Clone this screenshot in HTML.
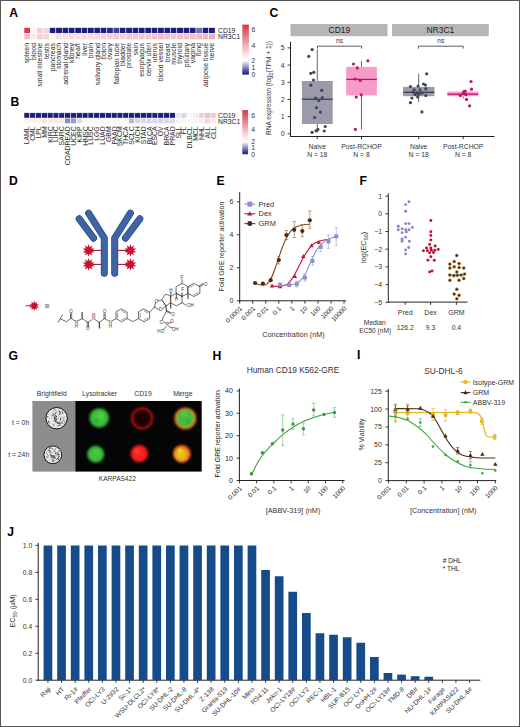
<!DOCTYPE html>
<html><head><meta charset="utf-8"><style>
html,body{margin:0;padding:0;background:#fff;width:520px;height:727px;overflow:hidden;}
svg{display:block;}
text{font-family:"Liberation Sans", sans-serif;}
</style></head><body>
<svg width="520" height="727" viewBox="0 0 520 727">
<rect x="0" y="0" width="520" height="727" fill="#fff"/>
<text x="9.30" y="16.80" font-size="12.2" text-anchor="start" fill="#000" font-weight="bold">A</text>
<text x="10.50" y="106.30" font-size="12.2" text-anchor="start" fill="#000" font-weight="bold">B</text>
<text x="269.50" y="17.20" font-size="12.2" text-anchor="start" fill="#000" font-weight="bold">C</text>
<text x="9.00" y="185.20" font-size="12.2" text-anchor="start" fill="#000" font-weight="bold">D</text>
<text x="216.60" y="185.40" font-size="12.2" text-anchor="start" fill="#000" font-weight="bold">E</text>
<text x="359.50" y="185.20" font-size="12.2" text-anchor="start" fill="#000" font-weight="bold">F</text>
<text x="8.50" y="360.20" font-size="12.2" text-anchor="start" fill="#000" font-weight="bold">G</text>
<text x="212.50" y="360.20" font-size="12.2" text-anchor="start" fill="#000" font-weight="bold">H</text>
<text x="357.00" y="359.40" font-size="12.2" text-anchor="start" fill="#000" font-weight="bold">I</text>
<text x="7.20" y="535.80" font-size="12.2" text-anchor="start" fill="#000" font-weight="bold">J</text>
<rect x="24.00" y="27.60" width="6.37" height="5.95" fill="#d63c48" stroke="#fff" stroke-width="0.5"/>
<rect x="24.00" y="33.55" width="6.37" height="6.05" fill="#f2c2c8" stroke="#fff" stroke-width="0.5"/>
<rect x="30.37" y="27.60" width="6.37" height="5.95" fill="#fbf5f5" stroke="#fff" stroke-width="0.5"/>
<rect x="30.37" y="33.55" width="6.37" height="6.05" fill="#f8e8ea" stroke="#fff" stroke-width="0.5"/>
<rect x="36.74" y="27.60" width="6.37" height="5.95" fill="#eed0d6" stroke="#fff" stroke-width="0.5"/>
<rect x="36.74" y="33.55" width="6.37" height="6.05" fill="#efd0d5" stroke="#fff" stroke-width="0.5"/>
<rect x="43.11" y="27.60" width="6.37" height="5.95" fill="#f2d8dc" stroke="#fff" stroke-width="0.5"/>
<rect x="43.11" y="33.55" width="6.37" height="6.05" fill="#f2d5d9" stroke="#fff" stroke-width="0.5"/>
<rect x="49.48" y="27.60" width="6.37" height="5.95" fill="#1d1d7e" stroke="#fff" stroke-width="0.5"/>
<rect x="49.48" y="33.55" width="6.37" height="6.05" fill="#fcf4f3" stroke="#fff" stroke-width="0.5"/>
<rect x="55.85" y="27.60" width="6.37" height="5.95" fill="#1d1d7e" stroke="#fff" stroke-width="0.5"/>
<rect x="55.85" y="33.55" width="6.37" height="6.05" fill="#f6e2e4" stroke="#fff" stroke-width="0.5"/>
<rect x="62.22" y="27.60" width="6.37" height="5.95" fill="#1d1d7e" stroke="#fff" stroke-width="0.5"/>
<rect x="62.22" y="33.55" width="6.37" height="6.05" fill="#f6e0e2" stroke="#fff" stroke-width="0.5"/>
<rect x="68.59" y="27.60" width="6.37" height="5.95" fill="#1d1d7e" stroke="#fff" stroke-width="0.5"/>
<rect x="68.59" y="33.55" width="6.37" height="6.05" fill="#f4dcdf" stroke="#fff" stroke-width="0.5"/>
<rect x="74.96" y="27.60" width="6.37" height="5.95" fill="#1d1d7e" stroke="#fff" stroke-width="0.5"/>
<rect x="74.96" y="33.55" width="6.37" height="6.05" fill="#f6e2e4" stroke="#fff" stroke-width="0.5"/>
<rect x="81.33" y="27.60" width="6.37" height="5.95" fill="#1d1d7e" stroke="#fff" stroke-width="0.5"/>
<rect x="81.33" y="33.55" width="6.37" height="6.05" fill="#f4dadd" stroke="#fff" stroke-width="0.5"/>
<rect x="87.70" y="27.60" width="6.37" height="5.95" fill="#1d1d7e" stroke="#fff" stroke-width="0.5"/>
<rect x="87.70" y="33.55" width="6.37" height="6.05" fill="#f5dfe1" stroke="#fff" stroke-width="0.5"/>
<rect x="94.07" y="27.60" width="6.37" height="5.95" fill="#1d1d7e" stroke="#fff" stroke-width="0.5"/>
<rect x="94.07" y="33.55" width="6.37" height="6.05" fill="#f4dadd" stroke="#fff" stroke-width="0.5"/>
<rect x="100.44" y="27.60" width="6.37" height="5.95" fill="#1d1d7e" stroke="#fff" stroke-width="0.5"/>
<rect x="100.44" y="33.55" width="6.37" height="6.05" fill="#f2d4d8" stroke="#fff" stroke-width="0.5"/>
<rect x="106.81" y="27.60" width="6.37" height="5.95" fill="#2a2a86" stroke="#fff" stroke-width="0.5"/>
<rect x="106.81" y="33.55" width="6.37" height="6.05" fill="#f2d0d4" stroke="#fff" stroke-width="0.5"/>
<rect x="113.18" y="27.60" width="6.37" height="5.95" fill="#40409a" stroke="#fff" stroke-width="0.5"/>
<rect x="113.18" y="33.55" width="6.37" height="6.05" fill="#f0ccd0" stroke="#fff" stroke-width="0.5"/>
<rect x="119.55" y="27.60" width="6.37" height="5.95" fill="#1d1d7e" stroke="#fff" stroke-width="0.5"/>
<rect x="119.55" y="33.55" width="6.37" height="6.05" fill="#f2d0d4" stroke="#fff" stroke-width="0.5"/>
<rect x="125.92" y="27.60" width="6.37" height="5.95" fill="#1d1d7e" stroke="#fff" stroke-width="0.5"/>
<rect x="125.92" y="33.55" width="6.37" height="6.05" fill="#f0ccd0" stroke="#fff" stroke-width="0.5"/>
<rect x="132.29" y="27.60" width="6.37" height="5.95" fill="#1d1d7e" stroke="#fff" stroke-width="0.5"/>
<rect x="132.29" y="33.55" width="6.37" height="6.05" fill="#f0cace" stroke="#fff" stroke-width="0.5"/>
<rect x="138.66" y="27.60" width="6.37" height="5.95" fill="#1d1d7e" stroke="#fff" stroke-width="0.5"/>
<rect x="138.66" y="33.55" width="6.37" height="6.05" fill="#f0c8cc" stroke="#fff" stroke-width="0.5"/>
<rect x="145.03" y="27.60" width="6.37" height="5.95" fill="#1d1d7e" stroke="#fff" stroke-width="0.5"/>
<rect x="145.03" y="33.55" width="6.37" height="6.05" fill="#f0c8cc" stroke="#fff" stroke-width="0.5"/>
<rect x="151.40" y="27.60" width="6.37" height="5.95" fill="#1d1d7e" stroke="#fff" stroke-width="0.5"/>
<rect x="151.40" y="33.55" width="6.37" height="6.05" fill="#eec4c8" stroke="#fff" stroke-width="0.5"/>
<rect x="157.77" y="27.60" width="6.37" height="5.95" fill="#1d1d7e" stroke="#fff" stroke-width="0.5"/>
<rect x="157.77" y="33.55" width="6.37" height="6.05" fill="#eec0c6" stroke="#fff" stroke-width="0.5"/>
<rect x="164.14" y="27.60" width="6.37" height="5.95" fill="#1d1d7e" stroke="#fff" stroke-width="0.5"/>
<rect x="164.14" y="33.55" width="6.37" height="6.05" fill="#eec2c6" stroke="#fff" stroke-width="0.5"/>
<rect x="170.51" y="27.60" width="6.37" height="5.95" fill="#1d1d7e" stroke="#fff" stroke-width="0.5"/>
<rect x="170.51" y="33.55" width="6.37" height="6.05" fill="#f0c8cc" stroke="#fff" stroke-width="0.5"/>
<rect x="176.88" y="27.60" width="6.37" height="5.95" fill="#1d1d7e" stroke="#fff" stroke-width="0.5"/>
<rect x="176.88" y="33.55" width="6.37" height="6.05" fill="#eec2c6" stroke="#fff" stroke-width="0.5"/>
<rect x="183.25" y="27.60" width="6.37" height="5.95" fill="#1d1d7e" stroke="#fff" stroke-width="0.5"/>
<rect x="183.25" y="33.55" width="6.37" height="6.05" fill="#eec4c8" stroke="#fff" stroke-width="0.5"/>
<rect x="189.62" y="27.60" width="6.37" height="5.95" fill="#1d1d7e" stroke="#fff" stroke-width="0.5"/>
<rect x="189.62" y="33.55" width="6.37" height="6.05" fill="#eec0c4" stroke="#fff" stroke-width="0.5"/>
<rect x="195.99" y="27.60" width="6.37" height="5.95" fill="#6e6eb4" stroke="#fff" stroke-width="0.5"/>
<rect x="195.99" y="33.55" width="6.37" height="6.05" fill="#ecbcc2" stroke="#fff" stroke-width="0.5"/>
<rect x="202.36" y="27.60" width="6.37" height="5.95" fill="#1d1d7e" stroke="#fff" stroke-width="0.5"/>
<rect x="202.36" y="33.55" width="6.37" height="6.05" fill="#ecbac0" stroke="#fff" stroke-width="0.5"/>
<rect x="208.73" y="27.60" width="6.37" height="5.95" fill="#1d1d7e" stroke="#fff" stroke-width="0.5"/>
<rect x="208.73" y="33.55" width="6.37" height="6.05" fill="#e8b0b6" stroke="#fff" stroke-width="0.5"/>
<text x="29.48" y="43.00" font-size="6.9" text-anchor="end" fill="#2a2a2a" transform="rotate(-90 29.48 43.00)">spleen</text>
<text x="35.85" y="43.00" font-size="6.9" text-anchor="end" fill="#2a2a2a" transform="rotate(-90 35.85 43.00)">blood</text>
<text x="42.22" y="43.00" font-size="6.9" text-anchor="end" fill="#2a2a2a" transform="rotate(-90 42.22 43.00)">small intestine</text>
<text x="48.59" y="43.00" font-size="6.9" text-anchor="end" fill="#2a2a2a" transform="rotate(-90 48.59 43.00)">testis</text>
<text x="54.96" y="43.00" font-size="6.9" text-anchor="end" fill="#2a2a2a" transform="rotate(-90 54.96 43.00)">pancreas</text>
<text x="61.34" y="43.00" font-size="6.9" text-anchor="end" fill="#2a2a2a" transform="rotate(-90 61.34 43.00)">stomach</text>
<text x="67.70" y="43.00" font-size="6.9" text-anchor="end" fill="#2a2a2a" transform="rotate(-90 67.70 43.00)">adrenal gland</text>
<text x="74.08" y="43.00" font-size="6.9" text-anchor="end" fill="#2a2a2a" transform="rotate(-90 74.08 43.00)">kidney</text>
<text x="80.45" y="43.00" font-size="6.9" text-anchor="end" fill="#2a2a2a" transform="rotate(-90 80.45 43.00)">heart</text>
<text x="86.81" y="43.00" font-size="6.9" text-anchor="end" fill="#2a2a2a" transform="rotate(-90 86.81 43.00)">liver</text>
<text x="93.19" y="43.00" font-size="6.9" text-anchor="end" fill="#2a2a2a" transform="rotate(-90 93.19 43.00)">brain</text>
<text x="99.55" y="43.00" font-size="6.9" text-anchor="end" fill="#2a2a2a" transform="rotate(-90 99.55 43.00)">salivary gland</text>
<text x="105.92" y="43.00" font-size="6.9" text-anchor="end" fill="#2a2a2a" transform="rotate(-90 105.92 43.00)">colon</text>
<text x="112.30" y="43.00" font-size="6.9" text-anchor="end" fill="#2a2a2a" transform="rotate(-90 112.30 43.00)">ovary</text>
<text x="118.66" y="43.00" font-size="6.9" text-anchor="end" fill="#2a2a2a" transform="rotate(-90 118.66 43.00)">fallopian tube</text>
<text x="125.03" y="43.00" font-size="6.9" text-anchor="end" fill="#2a2a2a" transform="rotate(-90 125.03 43.00)">bladder</text>
<text x="131.41" y="43.00" font-size="6.9" text-anchor="end" fill="#2a2a2a" transform="rotate(-90 131.41 43.00)">prostate</text>
<text x="137.78" y="43.00" font-size="6.9" text-anchor="end" fill="#2a2a2a" transform="rotate(-90 137.78 43.00)">skin</text>
<text x="144.15" y="43.00" font-size="6.9" text-anchor="end" fill="#2a2a2a" transform="rotate(-90 144.15 43.00)">esophagus</text>
<text x="150.52" y="43.00" font-size="6.9" text-anchor="end" fill="#2a2a2a" transform="rotate(-90 150.52 43.00)">cervix uteri</text>
<text x="156.89" y="43.00" font-size="6.9" text-anchor="end" fill="#2a2a2a" transform="rotate(-90 156.89 43.00)">uterus</text>
<text x="163.26" y="43.00" font-size="6.9" text-anchor="end" fill="#2a2a2a" transform="rotate(-90 163.26 43.00)">blood vessel</text>
<text x="169.62" y="43.00" font-size="6.9" text-anchor="end" fill="#2a2a2a" transform="rotate(-90 169.62 43.00)">breast</text>
<text x="176.00" y="43.00" font-size="6.9" text-anchor="end" fill="#2a2a2a" transform="rotate(-90 176.00 43.00)">muscle</text>
<text x="182.37" y="43.00" font-size="6.9" text-anchor="end" fill="#2a2a2a" transform="rotate(-90 182.37 43.00)">thyroid</text>
<text x="188.74" y="43.00" font-size="6.9" text-anchor="end" fill="#2a2a2a" transform="rotate(-90 188.74 43.00)">pituitary</text>
<text x="195.11" y="43.00" font-size="6.9" text-anchor="end" fill="#2a2a2a" transform="rotate(-90 195.11 43.00)">vagina</text>
<text x="201.48" y="43.00" font-size="6.9" text-anchor="end" fill="#2a2a2a" transform="rotate(-90 201.48 43.00)">lung</text>
<text x="207.85" y="43.00" font-size="6.9" text-anchor="end" fill="#2a2a2a" transform="rotate(-90 207.85 43.00)">adipose tissue</text>
<text x="214.22" y="43.00" font-size="6.9" text-anchor="end" fill="#2a2a2a" transform="rotate(-90 214.22 43.00)">nerve</text>
<text x="218.00" y="32.90" font-size="6.8" text-anchor="start" fill="#222">CD19</text>
<text x="218.00" y="39.10" font-size="6.8" text-anchor="start" fill="#222">NR3C1</text>
<linearGradient id="cbA" x1="0" y1="0" x2="0" y2="1"><stop offset="0" stop-color="#d43a4a"/><stop offset="0.12" stop-color="#de5a66"/><stop offset="0.42" stop-color="#efb0b8"/><stop offset="0.6" stop-color="#f8e2e4"/><stop offset="0.72" stop-color="#ffffff"/><stop offset="0.86" stop-color="#8484c0"/><stop offset="1" stop-color="#18187a"/></linearGradient>
<rect x="242.30" y="24.60" width="6.60" height="50.00" fill="url(#cbA)"/>
<text x="251.50" y="32.40" font-size="6.8" text-anchor="start" fill="#333">6</text>
<text x="251.50" y="47.80" font-size="6.8" text-anchor="start" fill="#333">4</text>
<text x="251.50" y="63.20" font-size="6.8" text-anchor="start" fill="#333">2</text>
<text x="251.50" y="70.10" font-size="6.8" text-anchor="start" fill="#333">1</text>
<text x="251.50" y="76.60" font-size="6.8" text-anchor="start" fill="#333">0</text>
<rect x="24.00" y="112.80" width="5.82" height="5.35" fill="#1d1d7e" stroke="#fff" stroke-width="0.5"/>
<rect x="24.00" y="118.15" width="5.82" height="5.35" fill="#fdf3ee" stroke="#fff" stroke-width="0.5"/>
<rect x="29.82" y="112.80" width="5.82" height="5.35" fill="#1d1d7e" stroke="#fff" stroke-width="0.5"/>
<rect x="29.82" y="118.15" width="5.82" height="5.35" fill="#fcf0ec" stroke="#fff" stroke-width="0.5"/>
<rect x="35.64" y="112.80" width="5.82" height="5.35" fill="#1d1d7e" stroke="#fff" stroke-width="0.5"/>
<rect x="35.64" y="118.15" width="5.82" height="5.35" fill="#fbeee8" stroke="#fff" stroke-width="0.5"/>
<rect x="41.46" y="112.80" width="5.82" height="5.35" fill="#1d1d7e" stroke="#fff" stroke-width="0.5"/>
<rect x="41.46" y="118.15" width="5.82" height="5.35" fill="#f8e4de" stroke="#fff" stroke-width="0.5"/>
<rect x="47.28" y="112.80" width="5.82" height="5.35" fill="#1d1d7e" stroke="#fff" stroke-width="0.5"/>
<rect x="47.28" y="118.15" width="5.82" height="5.35" fill="#fae8e2" stroke="#fff" stroke-width="0.5"/>
<rect x="53.10" y="112.80" width="5.82" height="5.35" fill="#1d1d7e" stroke="#fff" stroke-width="0.5"/>
<rect x="53.10" y="118.15" width="5.82" height="5.35" fill="#f8e6e0" stroke="#fff" stroke-width="0.5"/>
<rect x="58.92" y="112.80" width="5.82" height="5.35" fill="#1d1d7e" stroke="#fff" stroke-width="0.5"/>
<rect x="58.92" y="118.15" width="5.82" height="5.35" fill="#f9e8e4" stroke="#fff" stroke-width="0.5"/>
<rect x="64.74" y="112.80" width="5.82" height="5.35" fill="#1d1d7e" stroke="#fff" stroke-width="0.5"/>
<rect x="64.74" y="118.15" width="5.82" height="5.35" fill="#8a8ac8" stroke="#fff" stroke-width="0.5"/>
<rect x="70.56" y="112.80" width="5.82" height="5.35" fill="#1d1d7e" stroke="#fff" stroke-width="0.5"/>
<rect x="70.56" y="118.15" width="5.82" height="5.35" fill="#9898d0" stroke="#fff" stroke-width="0.5"/>
<rect x="76.38" y="112.80" width="5.82" height="5.35" fill="#1d1d7e" stroke="#fff" stroke-width="0.5"/>
<rect x="76.38" y="118.15" width="5.82" height="5.35" fill="#dcdcf0" stroke="#fff" stroke-width="0.5"/>
<rect x="82.20" y="112.80" width="5.82" height="5.35" fill="#1d1d7e" stroke="#fff" stroke-width="0.5"/>
<rect x="82.20" y="118.15" width="5.82" height="5.35" fill="#fbf6f6" stroke="#fff" stroke-width="0.5"/>
<rect x="88.02" y="112.80" width="5.82" height="5.35" fill="#1d1d7e" stroke="#fff" stroke-width="0.5"/>
<rect x="88.02" y="118.15" width="5.82" height="5.35" fill="#fbf6f6" stroke="#fff" stroke-width="0.5"/>
<rect x="93.84" y="112.80" width="5.82" height="5.35" fill="#1d1d7e" stroke="#fff" stroke-width="0.5"/>
<rect x="93.84" y="118.15" width="5.82" height="5.35" fill="#faf6f6" stroke="#fff" stroke-width="0.5"/>
<rect x="99.66" y="112.80" width="5.82" height="5.35" fill="#1d1d7e" stroke="#fff" stroke-width="0.5"/>
<rect x="99.66" y="118.15" width="5.82" height="5.35" fill="#fbf6f6" stroke="#fff" stroke-width="0.5"/>
<rect x="105.48" y="112.80" width="5.82" height="5.35" fill="#1d1d7e" stroke="#fff" stroke-width="0.5"/>
<rect x="105.48" y="118.15" width="5.82" height="5.35" fill="#fbf5f6" stroke="#fff" stroke-width="0.5"/>
<rect x="111.30" y="112.80" width="5.82" height="5.35" fill="#1d1d7e" stroke="#fff" stroke-width="0.5"/>
<rect x="111.30" y="118.15" width="5.82" height="5.35" fill="#f8f4f6" stroke="#fff" stroke-width="0.5"/>
<rect x="117.12" y="112.80" width="5.82" height="5.35" fill="#1d1d7e" stroke="#fff" stroke-width="0.5"/>
<rect x="117.12" y="118.15" width="5.82" height="5.35" fill="#f8f6f8" stroke="#fff" stroke-width="0.5"/>
<rect x="122.94" y="112.80" width="5.82" height="5.35" fill="#1d1d7e" stroke="#fff" stroke-width="0.5"/>
<rect x="122.94" y="118.15" width="5.82" height="5.35" fill="#f8f6f8" stroke="#fff" stroke-width="0.5"/>
<rect x="128.76" y="112.80" width="5.82" height="5.35" fill="#1d1d7e" stroke="#fff" stroke-width="0.5"/>
<rect x="128.76" y="118.15" width="5.82" height="5.35" fill="#b6b6de" stroke="#fff" stroke-width="0.5"/>
<rect x="134.58" y="112.80" width="5.82" height="5.35" fill="#1d1d7e" stroke="#fff" stroke-width="0.5"/>
<rect x="134.58" y="118.15" width="5.82" height="5.35" fill="#d4d4ee" stroke="#fff" stroke-width="0.5"/>
<rect x="140.40" y="112.80" width="5.82" height="5.35" fill="#1d1d7e" stroke="#fff" stroke-width="0.5"/>
<rect x="140.40" y="118.15" width="5.82" height="5.35" fill="#d8d8f0" stroke="#fff" stroke-width="0.5"/>
<rect x="146.22" y="112.80" width="5.82" height="5.35" fill="#1d1d7e" stroke="#fff" stroke-width="0.5"/>
<rect x="146.22" y="118.15" width="5.82" height="5.35" fill="#d6d6ee" stroke="#fff" stroke-width="0.5"/>
<rect x="152.04" y="112.80" width="5.82" height="5.35" fill="#1d1d7e" stroke="#fff" stroke-width="0.5"/>
<rect x="152.04" y="118.15" width="5.82" height="5.35" fill="#d8d8f0" stroke="#fff" stroke-width="0.5"/>
<rect x="157.86" y="112.80" width="5.82" height="5.35" fill="#1d1d7e" stroke="#fff" stroke-width="0.5"/>
<rect x="157.86" y="118.15" width="5.82" height="5.35" fill="#d4d4ee" stroke="#fff" stroke-width="0.5"/>
<rect x="163.68" y="112.80" width="5.82" height="5.35" fill="#1d1d7e" stroke="#fff" stroke-width="0.5"/>
<rect x="163.68" y="118.15" width="5.82" height="5.35" fill="#d8d8f0" stroke="#fff" stroke-width="0.5"/>
<rect x="169.50" y="112.80" width="5.82" height="5.35" fill="#1d1d7e" stroke="#fff" stroke-width="0.5"/>
<rect x="169.50" y="118.15" width="5.82" height="5.35" fill="#dadaf0" stroke="#fff" stroke-width="0.5"/>
<rect x="175.32" y="112.80" width="5.82" height="5.35" fill="#e6e6f2" stroke="#fff" stroke-width="0.5"/>
<rect x="175.32" y="118.15" width="5.82" height="5.35" fill="#fbf3f3" stroke="#fff" stroke-width="0.5"/>
<rect x="181.14" y="112.80" width="5.82" height="5.35" fill="#d6d6ec" stroke="#fff" stroke-width="0.5"/>
<rect x="181.14" y="118.15" width="5.82" height="5.35" fill="#fbf3f3" stroke="#fff" stroke-width="0.5"/>
<rect x="186.96" y="112.80" width="5.82" height="5.35" fill="#faf7f8" stroke="#fff" stroke-width="0.5"/>
<rect x="186.96" y="118.15" width="5.82" height="5.35" fill="#fcf6f6" stroke="#fff" stroke-width="0.5"/>
<rect x="192.78" y="112.80" width="5.82" height="5.35" fill="#f5eef0" stroke="#fff" stroke-width="0.5"/>
<rect x="192.78" y="118.15" width="5.82" height="5.35" fill="#fcf4f4" stroke="#fff" stroke-width="0.5"/>
<rect x="198.60" y="112.80" width="5.82" height="5.35" fill="#f0d2d6" stroke="#fff" stroke-width="0.5"/>
<rect x="198.60" y="118.15" width="5.82" height="5.35" fill="#fbeeee" stroke="#fff" stroke-width="0.5"/>
<rect x="204.42" y="112.80" width="5.82" height="5.35" fill="#eec2c6" stroke="#fff" stroke-width="0.5"/>
<rect x="204.42" y="118.15" width="5.82" height="5.35" fill="#f4d8dc" stroke="#fff" stroke-width="0.5"/>
<rect x="210.24" y="112.80" width="5.82" height="5.35" fill="#f0cace" stroke="#fff" stroke-width="0.5"/>
<rect x="210.24" y="118.15" width="5.82" height="5.35" fill="#f8e8ea" stroke="#fff" stroke-width="0.5"/>
<text x="29.31" y="126.30" font-size="6.9" text-anchor="end" fill="#2a2a2a" transform="rotate(-90 29.31 126.30)">LAML</text>
<text x="35.13" y="126.30" font-size="6.9" text-anchor="end" fill="#2a2a2a" transform="rotate(-90 35.13 126.30)">CML</text>
<text x="40.95" y="126.30" font-size="6.9" text-anchor="end" fill="#2a2a2a" transform="rotate(-90 40.95 126.30)">LPL</text>
<text x="46.77" y="126.30" font-size="6.9" text-anchor="end" fill="#2a2a2a" transform="rotate(-90 46.77 126.30)">MM</text>
<text x="52.59" y="126.30" font-size="6.9" text-anchor="end" fill="#2a2a2a" transform="rotate(-90 52.59 126.30)">KIRC</text>
<text x="58.41" y="126.30" font-size="6.9" text-anchor="end" fill="#2a2a2a" transform="rotate(-90 58.41 126.30)">LIHC</text>
<text x="64.23" y="126.30" font-size="6.9" text-anchor="end" fill="#2a2a2a" transform="rotate(-90 64.23 126.30)">SARC</text>
<text x="70.05" y="126.30" font-size="6.9" text-anchor="end" fill="#2a2a2a" transform="rotate(-90 70.05 126.30)">COADREAD</text>
<text x="75.87" y="126.30" font-size="6.9" text-anchor="end" fill="#2a2a2a" transform="rotate(-90 75.87 126.30)">UCEC</text>
<text x="81.69" y="126.30" font-size="6.9" text-anchor="end" fill="#2a2a2a" transform="rotate(-90 81.69 126.30)">KIRP</text>
<text x="87.51" y="126.30" font-size="6.9" text-anchor="end" fill="#2a2a2a" transform="rotate(-90 87.51 126.30)">HNSC</text>
<text x="93.33" y="126.30" font-size="6.9" text-anchor="end" fill="#2a2a2a" transform="rotate(-90 93.33 126.30)">LUSC</text>
<text x="99.15" y="126.30" font-size="6.9" text-anchor="end" fill="#2a2a2a" transform="rotate(-90 99.15 126.30)">LGG</text>
<text x="104.97" y="126.30" font-size="6.9" text-anchor="end" fill="#2a2a2a" transform="rotate(-90 104.97 126.30)">LUAD</text>
<text x="110.79" y="126.30" font-size="6.9" text-anchor="end" fill="#2a2a2a" transform="rotate(-90 110.79 126.30)">GBM</text>
<text x="116.61" y="126.30" font-size="6.9" text-anchor="end" fill="#2a2a2a" transform="rotate(-90 116.61 126.30)">PAAD</text>
<text x="122.43" y="126.30" font-size="6.9" text-anchor="end" fill="#2a2a2a" transform="rotate(-90 122.43 126.30)">SKCM</text>
<text x="128.25" y="126.30" font-size="6.9" text-anchor="end" fill="#2a2a2a" transform="rotate(-90 128.25 126.30)">THCA</text>
<text x="134.07" y="126.30" font-size="6.9" text-anchor="end" fill="#2a2a2a" transform="rotate(-90 134.07 126.30)">SCLC</text>
<text x="139.89" y="126.30" font-size="6.9" text-anchor="end" fill="#2a2a2a" transform="rotate(-90 139.89 126.30)">KICH</text>
<text x="145.71" y="126.30" font-size="6.9" text-anchor="end" fill="#2a2a2a" transform="rotate(-90 145.71 126.30)">STAD</text>
<text x="151.53" y="126.30" font-size="6.9" text-anchor="end" fill="#2a2a2a" transform="rotate(-90 151.53 126.30)">BLCA</text>
<text x="157.35" y="126.30" font-size="6.9" text-anchor="end" fill="#2a2a2a" transform="rotate(-90 157.35 126.30)">ESCA</text>
<text x="163.17" y="126.30" font-size="6.9" text-anchor="end" fill="#2a2a2a" transform="rotate(-90 163.17 126.30)">OV</text>
<text x="168.99" y="126.30" font-size="6.9" text-anchor="end" fill="#2a2a2a" transform="rotate(-90 168.99 126.30)">BRCA</text>
<text x="174.81" y="126.30" font-size="6.9" text-anchor="end" fill="#2a2a2a" transform="rotate(-90 174.81 126.30)">PRAD</text>
<text x="180.63" y="126.30" font-size="6.9" text-anchor="end" fill="#2a2a2a" transform="rotate(-90 180.63 126.30)">SLL</text>
<text x="186.45" y="126.30" font-size="6.9" text-anchor="end" fill="#2a2a2a" transform="rotate(-90 186.45 126.30)">FL</text>
<text x="192.27" y="126.30" font-size="6.9" text-anchor="end" fill="#2a2a2a" transform="rotate(-90 192.27 126.30)">DLBCL</text>
<text x="198.09" y="126.30" font-size="6.9" text-anchor="end" fill="#2a2a2a" transform="rotate(-90 198.09 126.30)">MCL</text>
<text x="203.91" y="126.30" font-size="6.9" text-anchor="end" fill="#2a2a2a" transform="rotate(-90 203.91 126.30)">NHL</text>
<text x="209.73" y="126.30" font-size="6.9" text-anchor="end" fill="#2a2a2a" transform="rotate(-90 209.73 126.30)">ALL</text>
<text x="215.55" y="126.30" font-size="6.9" text-anchor="end" fill="#2a2a2a" transform="rotate(-90 215.55 126.30)">CLL</text>
<text x="218.00" y="117.90" font-size="6.8" text-anchor="start" fill="#222">CD19</text>
<text x="218.00" y="124.40" font-size="6.8" text-anchor="start" fill="#222">NR3C1</text>
<linearGradient id="cbB" x1="0" y1="0" x2="0" y2="1"><stop offset="0" stop-color="#d43a4a"/><stop offset="0.12" stop-color="#de5a66"/><stop offset="0.42" stop-color="#efb0b8"/><stop offset="0.6" stop-color="#f8e2e4"/><stop offset="0.72" stop-color="#ffffff"/><stop offset="0.86" stop-color="#8484c0"/><stop offset="1" stop-color="#18187a"/></linearGradient>
<rect x="242.30" y="110.10" width="5.80" height="44.10" fill="url(#cbB)"/>
<text x="251.30" y="118.40" font-size="6.8" text-anchor="start" fill="#333">6</text>
<text x="251.30" y="131.60" font-size="6.8" text-anchor="start" fill="#333">4</text>
<text x="251.30" y="144.10" font-size="6.8" text-anchor="start" fill="#333">2</text>
<text x="251.30" y="150.10" font-size="6.8" text-anchor="start" fill="#333">1</text>
<text x="251.30" y="156.60" font-size="6.8" text-anchor="start" fill="#333">0</text>
<rect x="290.50" y="24.00" width="97.00" height="12.20" fill="#b6b6b6"/>
<rect x="392.00" y="24.00" width="96.80" height="12.20" fill="#b6b6b6"/>
<text x="339.40" y="32.90" font-size="8.5" text-anchor="middle" fill="#222">CD19</text>
<text x="440.40" y="32.90" font-size="8.5" text-anchor="middle" fill="#222">NR3C1</text>
<path d="M317.5,48.6 L317.5,46.2 L361.6,46.2 L361.6,48.6" stroke="#333" fill="none" stroke-width="0.8"/>
<text x="339.55" y="42.60" font-size="6.5" text-anchor="middle" fill="#333">ns</text>
<path d="M418.4,48.6 L418.4,46.2 L463.2,46.2 L463.2,48.6" stroke="#333" fill="none" stroke-width="0.8"/>
<text x="440.80" y="42.60" font-size="6.5" text-anchor="middle" fill="#333">ns</text>
<line x1="290.50" y1="41.80" x2="290.50" y2="136.80" stroke="#222" stroke-width="1"/>
<line x1="290.00" y1="136.50" x2="494.50" y2="136.50" stroke="#222" stroke-width="1"/>
<line x1="287.60" y1="133.80" x2="290.50" y2="133.80" stroke="#222" stroke-width="0.9"/>
<text x="284.70" y="136.30" font-size="7" text-anchor="end" fill="#333">0</text>
<line x1="287.60" y1="116.62" x2="290.50" y2="116.62" stroke="#222" stroke-width="0.9"/>
<text x="284.70" y="119.12" font-size="7" text-anchor="end" fill="#333">1</text>
<line x1="287.60" y1="99.44" x2="290.50" y2="99.44" stroke="#222" stroke-width="0.9"/>
<text x="284.70" y="101.94" font-size="7" text-anchor="end" fill="#333">2</text>
<line x1="287.60" y1="82.26" x2="290.50" y2="82.26" stroke="#222" stroke-width="0.9"/>
<text x="284.70" y="84.76" font-size="7" text-anchor="end" fill="#333">3</text>
<line x1="287.60" y1="65.08" x2="290.50" y2="65.08" stroke="#222" stroke-width="0.9"/>
<text x="284.70" y="67.58" font-size="7" text-anchor="end" fill="#333">4</text>
<line x1="287.60" y1="47.90" x2="290.50" y2="47.90" stroke="#222" stroke-width="0.9"/>
<text x="284.70" y="50.40" font-size="7" text-anchor="end" fill="#333">5</text>
<line x1="317.30" y1="136.50" x2="317.30" y2="139.20" stroke="#222" stroke-width="0.9"/>
<line x1="361.50" y1="136.50" x2="361.50" y2="139.20" stroke="#222" stroke-width="0.9"/>
<line x1="418.70" y1="136.50" x2="418.70" y2="139.20" stroke="#222" stroke-width="0.9"/>
<line x1="463.20" y1="136.50" x2="463.20" y2="139.20" stroke="#222" stroke-width="0.9"/>
<text x="317.30" y="149.10" font-size="6.8" text-anchor="middle" fill="#333">Naive</text>
<text x="317.30" y="156.70" font-size="6.8" text-anchor="middle" fill="#333">N = 18</text>
<text x="361.50" y="149.10" font-size="6.8" text-anchor="middle" fill="#333">Post-RCHOP</text>
<text x="361.50" y="156.70" font-size="6.8" text-anchor="middle" fill="#333">N = 8</text>
<text x="418.70" y="149.10" font-size="6.8" text-anchor="middle" fill="#333">Naive</text>
<text x="418.70" y="156.70" font-size="6.8" text-anchor="middle" fill="#333">N = 18</text>
<text x="463.20" y="149.10" font-size="6.8" text-anchor="middle" fill="#333">Post-RCHOP</text>
<text x="463.20" y="156.70" font-size="6.8" text-anchor="middle" fill="#333">N = 8</text>
<text x="0" y="0" font-size="6.55" text-anchor="middle" fill="#333" transform="translate(271.1 88) rotate(-90)">RNA expression (log<tspan font-size="5" dy="1.5">2</tspan><tspan dy="-1.5">(TPM + 1))</tspan></text>
<line x1="317.30" y1="49.40" x2="317.30" y2="81.00" stroke="#555566" stroke-width="0.9"/>
<line x1="317.30" y1="124.00" x2="317.30" y2="132.60" stroke="#555566" stroke-width="0.9"/>
<rect x="301.90" y="81.00" width="30.80" height="43.00" fill="#9a9aab"/>
<line x1="301.90" y1="99.20" x2="332.70" y2="99.20" stroke="#3e3e50" stroke-width="1.3"/>
<line x1="361.50" y1="61.20" x2="361.50" y2="66.90" stroke="#c2166e" stroke-width="0.9"/>
<line x1="361.50" y1="95.40" x2="361.50" y2="129.40" stroke="#c2166e" stroke-width="0.9"/>
<rect x="346.20" y="66.90" width="30.70" height="28.50" fill="#f59cc9"/>
<line x1="346.20" y1="79.40" x2="376.90" y2="79.40" stroke="#c2166e" stroke-width="1.3"/>
<line x1="418.70" y1="73.80" x2="418.70" y2="86.90" stroke="#555566" stroke-width="0.9"/>
<line x1="418.70" y1="96.20" x2="418.70" y2="102.30" stroke="#555566" stroke-width="0.9"/>
<rect x="403.10" y="86.90" width="31.30" height="9.30" fill="#9a9aab"/>
<line x1="403.10" y1="92.30" x2="434.40" y2="92.30" stroke="#3e3e50" stroke-width="1.3"/>
<line x1="463.20" y1="89.80" x2="463.20" y2="91.70" stroke="#c2166e" stroke-width="0.9"/>
<line x1="463.20" y1="96.20" x2="463.20" y2="98.50" stroke="#c2166e" stroke-width="0.9"/>
<rect x="447.40" y="91.70" width="31.00" height="4.50" fill="#f59cc9"/>
<line x1="447.40" y1="94.20" x2="478.40" y2="94.20" stroke="#c2166e" stroke-width="1.3"/>
<circle cx="312.10" cy="49.60" r="1.60" fill="#3d4658"/>
<circle cx="308.70" cy="56.30" r="1.60" fill="#3d4658"/>
<circle cx="310.80" cy="73.30" r="1.60" fill="#3d4658"/>
<circle cx="313.80" cy="72.30" r="1.60" fill="#3d4658"/>
<circle cx="313.50" cy="80.00" r="1.60" fill="#3d4658"/>
<circle cx="310.80" cy="85.20" r="1.60" fill="#3d4658"/>
<circle cx="321.70" cy="90.40" r="1.60" fill="#3d4658"/>
<circle cx="315.60" cy="98.10" r="1.60" fill="#3d4658"/>
<circle cx="322.30" cy="97.70" r="1.60" fill="#3d4658"/>
<circle cx="318.80" cy="100.60" r="1.60" fill="#3d4658"/>
<circle cx="316.50" cy="107.70" r="1.60" fill="#3d4658"/>
<circle cx="320.40" cy="112.10" r="1.60" fill="#3d4658"/>
<circle cx="314.60" cy="117.50" r="1.60" fill="#3d4658"/>
<circle cx="325.20" cy="126.50" r="1.60" fill="#3d4658"/>
<circle cx="324.20" cy="131.00" r="1.60" fill="#3d4658"/>
<circle cx="317.90" cy="129.40" r="1.60" fill="#3d4658"/>
<circle cx="316.00" cy="130.80" r="1.60" fill="#3d4658"/>
<circle cx="312.10" cy="132.30" r="1.60" fill="#3d4658"/>
<circle cx="426.70" cy="73.80" r="1.60" fill="#3d4658"/>
<circle cx="423.50" cy="84.00" r="1.60" fill="#3d4658"/>
<circle cx="425.40" cy="85.00" r="1.60" fill="#3d4658"/>
<circle cx="410.40" cy="86.50" r="1.60" fill="#3d4658"/>
<circle cx="418.10" cy="86.00" r="1.60" fill="#3d4658"/>
<circle cx="414.20" cy="89.80" r="1.60" fill="#3d4658"/>
<circle cx="420.00" cy="89.80" r="1.60" fill="#3d4658"/>
<circle cx="425.80" cy="88.80" r="1.60" fill="#3d4658"/>
<circle cx="417.10" cy="92.70" r="1.60" fill="#3d4658"/>
<circle cx="415.20" cy="94.60" r="1.60" fill="#3d4658"/>
<circle cx="419.00" cy="94.20" r="1.60" fill="#3d4658"/>
<circle cx="425.80" cy="95.60" r="1.60" fill="#3d4658"/>
<circle cx="411.90" cy="98.00" r="1.60" fill="#3d4658"/>
<circle cx="417.70" cy="96.90" r="1.60" fill="#3d4658"/>
<circle cx="410.40" cy="102.70" r="1.60" fill="#3d4658"/>
<circle cx="421.90" cy="111.90" r="1.60" fill="#3d4658"/>
<circle cx="413.00" cy="92.00" r="1.60" fill="#3d4658"/>
<circle cx="422.00" cy="93.00" r="1.60" fill="#3d4658"/>
<circle cx="353.50" cy="64.00" r="1.60" fill="#c0126a"/>
<circle cx="367.90" cy="60.80" r="1.60" fill="#c0126a"/>
<circle cx="357.30" cy="67.90" r="1.60" fill="#c0126a"/>
<circle cx="355.00" cy="79.00" r="1.60" fill="#c0126a"/>
<circle cx="360.20" cy="80.40" r="1.60" fill="#c0126a"/>
<circle cx="356.30" cy="97.10" r="1.60" fill="#c0126a"/>
<circle cx="361.20" cy="94.80" r="1.60" fill="#c0126a"/>
<circle cx="355.40" cy="129.40" r="1.60" fill="#c0126a"/>
<circle cx="471.00" cy="81.50" r="1.60" fill="#c0126a"/>
<circle cx="471.50" cy="89.20" r="1.60" fill="#c0126a"/>
<circle cx="465.20" cy="91.20" r="1.60" fill="#c0126a"/>
<circle cx="460.40" cy="95.60" r="1.60" fill="#c0126a"/>
<circle cx="465.80" cy="94.60" r="1.60" fill="#c0126a"/>
<circle cx="466.50" cy="99.40" r="1.60" fill="#c0126a"/>
<circle cx="469.60" cy="105.80" r="1.60" fill="#c0126a"/>
<circle cx="463.30" cy="92.70" r="1.60" fill="#c0126a"/>
<g stroke="#2b4a84" stroke-width="7" stroke-linecap="round" stroke-linejoin="round" fill="none">
<path d="M88.6,213.2 L104.3,238 L104.3,273.2"/>
<path d="M130.4,213.2 L114.7,238 L114.7,273.2"/>
<path d="M79.2,218.8 L93.6,238.2"/>
<path d="M139.8,218.8 L125.4,238.2"/>
</g>
<g stroke="#3e64a6" stroke-width="5.6" stroke-linecap="round" stroke-linejoin="round" fill="none">
<path d="M88.6,213.2 L104.3,238 L104.3,273.2"/>
<path d="M130.4,213.2 L114.7,238 L114.7,273.2"/>
<path d="M79.2,218.8 L93.6,238.2"/>
<path d="M139.8,218.8 L125.4,238.2"/>
</g>
<line x1="92.00" y1="250.40" x2="101.50" y2="250.40" stroke="#9a1a2c" stroke-width="1.1"/>
<polygon points="88.60,244.10 89.65,247.17 92.30,245.30 91.35,248.40 94.59,248.45 92.00,250.40 94.59,252.35 91.35,252.40 92.30,255.50 89.65,253.63 88.60,256.70 87.55,253.63 84.90,255.50 85.85,252.40 82.61,252.35 85.20,250.40 82.61,248.45 85.85,248.40 84.90,245.30 87.55,247.17" fill="#c8102e"/>
<line x1="92.00" y1="264.40" x2="101.50" y2="264.40" stroke="#9a1a2c" stroke-width="1.1"/>
<polygon points="88.60,258.10 89.65,261.17 92.30,259.30 91.35,262.40 94.59,262.45 92.00,264.40 94.59,266.35 91.35,266.40 92.30,269.50 89.65,267.63 88.60,270.70 87.55,267.63 84.90,269.50 85.85,266.40 82.61,266.35 85.20,264.40 82.61,262.45 85.85,262.40 84.90,259.30 87.55,261.17" fill="#c8102e"/>
<line x1="118.00" y1="250.40" x2="127.00" y2="250.40" stroke="#9a1a2c" stroke-width="1.1"/>
<polygon points="130.40,244.10 131.45,247.17 134.10,245.30 133.15,248.40 136.39,248.45 133.80,250.40 136.39,252.35 133.15,252.40 134.10,255.50 131.45,253.63 130.40,256.70 129.35,253.63 126.70,255.50 127.65,252.40 124.41,252.35 127.00,250.40 124.41,248.45 127.65,248.40 126.70,245.30 129.35,247.17" fill="#c8102e"/>
<line x1="118.00" y1="264.40" x2="127.00" y2="264.40" stroke="#9a1a2c" stroke-width="1.1"/>
<polygon points="130.40,258.10 131.45,261.17 134.10,259.30 133.15,262.40 136.39,262.45 133.80,264.40 136.39,266.35 133.15,266.40 134.10,269.50 131.45,267.63 130.40,270.70 129.35,267.63 126.70,269.50 127.65,266.40 124.41,266.35 127.00,264.40 124.41,262.45 127.65,262.40 126.70,259.30 129.35,261.17" fill="#c8102e"/>
<line x1="25.50" y1="305.80" x2="31.00" y2="305.80" stroke="#c8102e" stroke-width="1"/>
<polygon points="34.20,300.60 35.07,303.14 37.26,301.59 36.47,304.15 39.15,304.19 37.00,305.80 39.15,307.41 36.47,307.45 37.26,310.01 35.07,308.46 34.20,311.00 33.33,308.46 31.14,310.01 31.93,307.45 29.25,307.41 31.40,305.80 29.25,304.19 31.93,304.15 31.14,301.59 33.33,303.14" fill="#c8102e"/>
<rect x="45.00" y="304.50" width="4.30" height="1.00" fill="#555"/>
<rect x="45.00" y="306.60" width="4.30" height="1.00" fill="#555"/>
<g stroke="#3e3e3e" stroke-width="0.75" fill="none" stroke-linejoin="round" stroke-linecap="round">
<path d="M58.2,322.3 L62.5,314.8" stroke="#3d63a3" stroke-width="0.9"/>
<path d="M60.2,318.8 L66.5,321.7 L71.1,318.3 L74.8,320.8"/>
<path d="M70.5,318.3 L70.5,313.6 M71.7,318.3 L71.7,313.6"/>
<path d="M77.8,320.8 L82.1,318.6 L87.9,322.3 L91.5,320"/>
<path d="M82.1,318.6 L82.1,312.5" stroke-width="1.2"/>
<path d="M87.3,322.3 L87.3,327 M88.5,322.3 L88.5,327"/>
<path d="M95.6,320 L99.4,322.3 L104.6,318.6 L108.3,320.8"/>
<path d="M99.4,322.3 L99.4,328.1" stroke-width="1.2"/>
<path d="M104,318.6 L104,313.6 M105.2,318.6 L105.2,313.6"/>
<path d="M112.4,320.8 L116,318.6"/>
<path d="M121.60,309.00 L127.14,312.20 L127.14,318.60 L121.60,321.80 L116.06,318.60 L116.06,312.20 Z"/>
<path d="M121.60,310.80 L125.58,313.10 M125.58,317.70 L121.60,320.00 M117.62,317.70 L117.62,313.10" stroke-width="0.5"/>
<path d="M144.10,309.00 L149.64,312.20 L149.64,318.60 L144.10,321.80 L138.56,318.60 L138.56,312.20 Z"/>
<path d="M144.10,310.80 L148.08,313.10 M148.08,317.70 L144.10,320.00 M140.12,317.70 L140.12,313.10" stroke-width="0.5"/>
<path d="M127.1,318.6 L132.8,321.6 L138.6,318.6"/>
<path d="M149.6,312.2 L154.5,307"/>
<path d="M154.5,307 L155.6,302.6 M157.6,301 L161.7,299.8 L165.9,305.8 L162.2,309.2 M159.2,309.8 L154.5,307"/>
<path d="M170.70,296.50 L170.70,302.80 L165.90,305.80 L161.70,299.80 L165.30,294.40 Z"/>
<path d="M170.70,296.50 L176.40,293.30 L182.00,296.50 L182.00,302.80 L176.40,305.80 L170.70,302.80 Z"/>
<path d="M176.40,286.70 L182.00,283.40 L188.00,286.70 L188.00,293.30 L182.00,296.50 L176.40,293.30 Z"/>
<path d="M188.00,286.70 L193.90,283.40 L199.90,286.70 L199.90,293.30 L193.90,296.50 L188.00,293.30 Z"/>
<path d="M189.6,287.4 L193.9,285 M194,294.8 L198.4,292.4" stroke-width="0.5"/>
<path d="M199.9,286.7 L203.6,284.3 M199.3,285.8 L203,283.4"/>
<path d="M182,283.4 L182,279.6"/>
<path d="M188,293.3 L188,298.6 M170.7,302.8 L170.7,308.2 M182,296.5 L182,293" stroke-width="1.1"/>
<path d="M182,302.8 L186.2,305.2"/>
<path d="M165.9,305.8 L166.5,311.5" stroke-width="1.1"/>
<path d="M166.5,311.5 L170.6,313.4 M166.9,310.7 L171,312.6"/>
<path d="M166.5,311.5 L163.3,316.8 L162.2,320.2"/>
<path d="M164,322.2 L166.2,323.6 M169.2,323.8 L171,321.8 M168.6,326.4 L172.6,328 M166.3,326.4 L163.2,329.6"/>
<path d="M176.4,293.3 L176.4,297.5 M170.7,296.5 L171,292" stroke-width="0.9"/>
</g>
<g font-size="4.6" fill="#3e3e3e" text-anchor="middle">
<text x="71.1" y="313.4">O</text>
<text x="76.3" y="324">N</text>
<text x="76.3" y="327.6">H</text>
<text x="87.9" y="330.4">O</text>
<text x="93.6" y="320.4">N</text>
<text x="93.6" y="316.8">H</text>
<text x="104.6" y="313.4">O</text>
<text x="110.4" y="324">N</text>
<text x="110.4" y="327.6">H</text>
<text x="156.3" y="303.2">O</text>
<text x="160.6" y="311.3">O</text>
<text x="182" y="279.2">F</text>
<text x="182.6" y="291.4">F</text>
<text x="170.9" y="291.5">H</text>
<text x="176.4" y="301">H</text>
<text x="205.8" y="285.8">O</text>
<text x="190.4" y="307.3">OH</text>
<text x="173" y="315.8">O</text>
<text x="161.4" y="323.8">O</text>
<text x="167.8" y="326.4">P</text>
<text x="172" y="322.5">O</text>
<text x="160.8" y="333.2">HO</text>
<text x="175.2" y="330.6">OH</text>
</g>
<line x1="239.70" y1="192.10" x2="239.70" y2="301.30" stroke="#222" stroke-width="1"/>
<line x1="239.20" y1="300.80" x2="346.20" y2="300.80" stroke="#222" stroke-width="1"/>
<line x1="236.80" y1="300.80" x2="239.70" y2="300.80" stroke="#222" stroke-width="0.9"/>
<text x="233.40" y="303.30" font-size="7" text-anchor="end" fill="#333">0</text>
<line x1="236.80" y1="267.80" x2="239.70" y2="267.80" stroke="#222" stroke-width="0.9"/>
<text x="233.40" y="270.30" font-size="7" text-anchor="end" fill="#333">2</text>
<line x1="236.80" y1="234.80" x2="239.70" y2="234.80" stroke="#222" stroke-width="0.9"/>
<text x="233.40" y="237.30" font-size="7" text-anchor="end" fill="#333">4</text>
<line x1="236.80" y1="201.80" x2="239.70" y2="201.80" stroke="#222" stroke-width="0.9"/>
<text x="233.40" y="204.30" font-size="7" text-anchor="end" fill="#333">6</text>
<line x1="239.70" y1="300.80" x2="239.70" y2="303.60" stroke="#222" stroke-width="0.9"/>
<text x="0" y="0" font-size="6.6" text-anchor="end" fill="#333" transform="translate(242.60 309.0) rotate(-45)">0.0001</text>
<line x1="252.74" y1="300.80" x2="252.74" y2="303.60" stroke="#222" stroke-width="0.9"/>
<text x="0" y="0" font-size="6.6" text-anchor="end" fill="#333" transform="translate(255.64 309.0) rotate(-45)">0.001</text>
<line x1="265.78" y1="300.80" x2="265.78" y2="303.60" stroke="#222" stroke-width="0.9"/>
<text x="0" y="0" font-size="6.6" text-anchor="end" fill="#333" transform="translate(268.68 309.0) rotate(-45)">0.01</text>
<line x1="278.82" y1="300.80" x2="278.82" y2="303.60" stroke="#222" stroke-width="0.9"/>
<text x="0" y="0" font-size="6.6" text-anchor="end" fill="#333" transform="translate(281.72 309.0) rotate(-45)">0.1</text>
<line x1="291.86" y1="300.80" x2="291.86" y2="303.60" stroke="#222" stroke-width="0.9"/>
<text x="0" y="0" font-size="6.6" text-anchor="end" fill="#333" transform="translate(294.76 309.0) rotate(-45)">1</text>
<line x1="304.90" y1="300.80" x2="304.90" y2="303.60" stroke="#222" stroke-width="0.9"/>
<text x="0" y="0" font-size="6.6" text-anchor="end" fill="#333" transform="translate(307.80 309.0) rotate(-45)">10</text>
<line x1="317.94" y1="300.80" x2="317.94" y2="303.60" stroke="#222" stroke-width="0.9"/>
<text x="0" y="0" font-size="6.6" text-anchor="end" fill="#333" transform="translate(320.84 309.0) rotate(-45)">100</text>
<line x1="330.98" y1="300.80" x2="330.98" y2="303.60" stroke="#222" stroke-width="0.9"/>
<text x="0" y="0" font-size="6.6" text-anchor="end" fill="#333" transform="translate(333.88 309.0) rotate(-45)">1000</text>
<line x1="344.02" y1="300.80" x2="344.02" y2="303.60" stroke="#222" stroke-width="0.9"/>
<text x="0" y="0" font-size="6.6" text-anchor="end" fill="#333" transform="translate(346.92 309.0) rotate(-45)">10000</text>
<text x="293.50" y="337.20" font-size="7.3" text-anchor="middle" fill="#333">Concentration (nM)</text>
<text x="223.50" y="246.50" font-size="7.1" text-anchor="middle" fill="#333" transform="rotate(-90 223.50 246.50)">Fold GRE reporter activation</text>
<path d="M255,283.6 C259,285 262,285.6 266,284.5 C272,282 276,265 280,254 C284,242 288,232 294,228 C299,225 305,224.3 310,224.2" stroke="#7a4a1c" fill="none" stroke-width="1.1"/>
<path d="M272,285.8 C276,286.5 281,286.8 286,285 C292,282 296,272 300,264 C305,254 309,247 314,243.5 C319,240.5 324,239.7 330,239.2" stroke="#c4103c" fill="none" stroke-width="1.1"/>
<path d="M280,285 C285,285.6 290,285.4 295,284 C300,282.5 303,278 306,273 C309,266 312,258 316,251 C320,245 324,241 328,239.4 C331,238 334,237.2 336.3,236.6" stroke="#8f8fcc" fill="none" stroke-width="1.1"/>
<circle cx="255.10" cy="283.00" r="2.10" fill="#4f2a12"/>
<circle cx="262.90" cy="283.70" r="2.10" fill="#4f2a12"/>
<circle cx="270.70" cy="280.20" r="2.10" fill="#4f2a12"/>
<line x1="278.80" y1="256.50" x2="278.80" y2="264.00" stroke="#a07040" stroke-width="0.7"/>
<line x1="277.20" y1="256.50" x2="280.40" y2="256.50" stroke="#a07040" stroke-width="0.7"/>
<line x1="277.20" y1="264.00" x2="280.40" y2="264.00" stroke="#a07040" stroke-width="0.7"/>
<circle cx="278.80" cy="260.10" r="2.10" fill="#4f2a12"/>
<line x1="286.40" y1="230.50" x2="286.40" y2="239.50" stroke="#a07040" stroke-width="0.7"/>
<line x1="284.80" y1="230.50" x2="288.00" y2="230.50" stroke="#a07040" stroke-width="0.7"/>
<line x1="284.80" y1="239.50" x2="288.00" y2="239.50" stroke="#a07040" stroke-width="0.7"/>
<circle cx="286.40" cy="235.10" r="2.10" fill="#4f2a12"/>
<line x1="294.20" y1="221.60" x2="294.20" y2="237.50" stroke="#a07040" stroke-width="0.7"/>
<line x1="292.60" y1="221.60" x2="295.80" y2="221.60" stroke="#a07040" stroke-width="0.7"/>
<line x1="292.60" y1="237.50" x2="295.80" y2="237.50" stroke="#a07040" stroke-width="0.7"/>
<circle cx="294.20" cy="229.80" r="2.10" fill="#4f2a12"/>
<line x1="302.30" y1="224.50" x2="302.30" y2="236.80" stroke="#a07040" stroke-width="0.7"/>
<line x1="300.70" y1="224.50" x2="303.90" y2="224.50" stroke="#a07040" stroke-width="0.7"/>
<line x1="300.70" y1="236.80" x2="303.90" y2="236.80" stroke="#a07040" stroke-width="0.7"/>
<circle cx="302.30" cy="231.10" r="2.10" fill="#4f2a12"/>
<line x1="309.80" y1="211.00" x2="309.80" y2="228.20" stroke="#a07040" stroke-width="0.7"/>
<line x1="308.20" y1="211.00" x2="311.40" y2="211.00" stroke="#a07040" stroke-width="0.7"/>
<line x1="308.20" y1="228.20" x2="311.40" y2="228.20" stroke="#a07040" stroke-width="0.7"/>
<circle cx="309.80" cy="220.30" r="2.10" fill="#4f2a12"/>
<polygon points="272.00,283.50 274.20,287.40 269.80,287.40" fill="#c4103c"/>
<polygon points="280.10,284.30 282.30,288.20 277.90,288.20" fill="#c4103c"/>
<polygon points="294.90,274.20 297.10,278.10 292.70,278.10" fill="#c4103c"/>
<polygon points="303.30,254.00 305.50,257.90 301.10,257.90" fill="#c4103c"/>
<polygon points="311.60,243.30 313.80,247.20 309.40,247.20" fill="#c4103c"/>
<polygon points="318.90,240.00 321.10,243.90 316.70,243.90" fill="#c4103c"/>
<rect x="278.10" y="282.60" width="4.00" height="4.00" fill="#8f8fcc"/>
<rect x="287.10" y="283.00" width="4.00" height="4.00" fill="#8f8fcc"/>
<line x1="296.80" y1="281.00" x2="296.80" y2="287.00" stroke="#a8a8d8" stroke-width="0.7"/>
<line x1="295.20" y1="281.00" x2="298.40" y2="281.00" stroke="#a8a8d8" stroke-width="0.7"/>
<line x1="295.20" y1="287.00" x2="298.40" y2="287.00" stroke="#a8a8d8" stroke-width="0.7"/>
<rect x="294.80" y="281.90" width="4.00" height="4.00" fill="#8f8fcc"/>
<line x1="304.90" y1="274.00" x2="304.90" y2="281.20" stroke="#a8a8d8" stroke-width="0.7"/>
<line x1="303.30" y1="274.00" x2="306.50" y2="274.00" stroke="#a8a8d8" stroke-width="0.7"/>
<line x1="303.30" y1="281.20" x2="306.50" y2="281.20" stroke="#a8a8d8" stroke-width="0.7"/>
<rect x="302.90" y="275.60" width="4.00" height="4.00" fill="#8f8fcc"/>
<line x1="312.50" y1="256.50" x2="312.50" y2="265.20" stroke="#a8a8d8" stroke-width="0.7"/>
<line x1="310.90" y1="256.50" x2="314.10" y2="256.50" stroke="#a8a8d8" stroke-width="0.7"/>
<line x1="310.90" y1="265.20" x2="314.10" y2="265.20" stroke="#a8a8d8" stroke-width="0.7"/>
<rect x="310.50" y="258.90" width="4.00" height="4.00" fill="#8f8fcc"/>
<line x1="320.70" y1="243.00" x2="320.70" y2="251.50" stroke="#a8a8d8" stroke-width="0.7"/>
<line x1="319.10" y1="243.00" x2="322.30" y2="243.00" stroke="#a8a8d8" stroke-width="0.7"/>
<line x1="319.10" y1="251.50" x2="322.30" y2="251.50" stroke="#a8a8d8" stroke-width="0.7"/>
<rect x="318.70" y="245.00" width="4.00" height="4.00" fill="#8f8fcc"/>
<line x1="328.40" y1="234.80" x2="328.40" y2="248.40" stroke="#a8a8d8" stroke-width="0.7"/>
<line x1="326.80" y1="234.80" x2="330.00" y2="234.80" stroke="#a8a8d8" stroke-width="0.7"/>
<line x1="326.80" y1="248.40" x2="330.00" y2="248.40" stroke="#a8a8d8" stroke-width="0.7"/>
<rect x="326.40" y="239.40" width="4.00" height="4.00" fill="#8f8fcc"/>
<line x1="336.20" y1="227.40" x2="336.20" y2="245.40" stroke="#a8a8d8" stroke-width="0.7"/>
<line x1="334.60" y1="227.40" x2="337.80" y2="227.40" stroke="#a8a8d8" stroke-width="0.7"/>
<line x1="334.60" y1="245.40" x2="337.80" y2="245.40" stroke="#a8a8d8" stroke-width="0.7"/>
<rect x="334.20" y="234.30" width="4.00" height="4.00" fill="#8f8fcc"/>
<line x1="244.30" y1="204.10" x2="255.30" y2="204.10" stroke="#8f8fcc" stroke-width="1.1"/>
<rect x="247.40" y="201.60" width="5.00" height="5.00" fill="#8f8fcc"/>
<line x1="244.30" y1="213.80" x2="255.30" y2="213.80" stroke="#c4103c" stroke-width="1.1"/>
<polygon points="249.8,211.2 252.4,215.6 247.2,215.6" fill="#c4103c"/>
<line x1="244.30" y1="223.60" x2="255.30" y2="223.60" stroke="#7a4a1c" stroke-width="1.1"/>
<circle cx="249.80" cy="223.60" r="2.50" fill="#4f2a12"/>
<text x="258.60" y="206.70" font-size="7.4" text-anchor="start" fill="#333">Pred</text>
<text x="258.60" y="216.40" font-size="7.4" text-anchor="start" fill="#333">Dex</text>
<text x="258.60" y="226.20" font-size="7.4" text-anchor="start" fill="#333">GRM</text>
<line x1="388.30" y1="193.40" x2="388.30" y2="302.60" stroke="#222" stroke-width="1"/>
<line x1="388.00" y1="302.10" x2="467.50" y2="302.10" stroke="#222" stroke-width="1"/>
<line x1="385.40" y1="196.10" x2="388.30" y2="196.10" stroke="#222" stroke-width="0.9"/>
<text x="382.20" y="198.60" font-size="7" text-anchor="end" fill="#333">1</text>
<line x1="385.40" y1="213.80" x2="388.30" y2="213.80" stroke="#222" stroke-width="0.9"/>
<text x="382.20" y="216.30" font-size="7" text-anchor="end" fill="#333">0</text>
<line x1="385.40" y1="231.50" x2="388.30" y2="231.50" stroke="#222" stroke-width="0.9"/>
<text x="382.20" y="234.00" font-size="7" text-anchor="end" fill="#333">−1</text>
<line x1="385.40" y1="249.20" x2="388.30" y2="249.20" stroke="#222" stroke-width="0.9"/>
<text x="382.20" y="251.70" font-size="7" text-anchor="end" fill="#333">−2</text>
<line x1="385.40" y1="266.90" x2="388.30" y2="266.90" stroke="#222" stroke-width="0.9"/>
<text x="382.20" y="269.40" font-size="7" text-anchor="end" fill="#333">−3</text>
<line x1="385.40" y1="284.60" x2="388.30" y2="284.60" stroke="#222" stroke-width="0.9"/>
<text x="382.20" y="287.10" font-size="7" text-anchor="end" fill="#333">−4</text>
<line x1="385.40" y1="302.30" x2="388.30" y2="302.30" stroke="#222" stroke-width="0.9"/>
<text x="382.20" y="304.80" font-size="7" text-anchor="end" fill="#333">−5</text>
<line x1="405.20" y1="302.10" x2="405.20" y2="304.80" stroke="#222" stroke-width="0.9"/>
<line x1="430.60" y1="302.10" x2="430.60" y2="304.80" stroke="#222" stroke-width="0.9"/>
<line x1="456.40" y1="302.10" x2="456.40" y2="304.80" stroke="#222" stroke-width="0.9"/>
<text x="405.20" y="314.50" font-size="7" text-anchor="middle" fill="#333">Pred</text>
<text x="430.60" y="314.50" font-size="7" text-anchor="middle" fill="#333">Dex</text>
<text x="456.40" y="314.50" font-size="7" text-anchor="middle" fill="#333">GRM</text>
<text x="374.80" y="325.00" font-size="6.7" text-anchor="middle" fill="#333">Median</text>
<text x="375.20" y="333.20" font-size="6.6" text-anchor="middle" fill="#333">EC50 (nM)</text>
<text x="405.20" y="329.50" font-size="6.8" text-anchor="middle" fill="#333">126.2</text>
<text x="430.60" y="329.50" font-size="6.8" text-anchor="middle" fill="#333">9.3</text>
<text x="456.40" y="329.50" font-size="6.8" text-anchor="middle" fill="#333">0.4</text>
<text x="0" y="0" font-size="7.4" text-anchor="middle" fill="#333" transform="translate(366 247.4) rotate(-90)">log(EC<tspan font-size="5.4" dy="1.5">50</tspan><tspan dy="-1.5">)</tspan></text>
<circle cx="409.00" cy="201.70" r="1.45" fill="#8585c8"/>
<circle cx="405.60" cy="204.60" r="1.45" fill="#8585c8"/>
<circle cx="405.60" cy="211.20" r="1.45" fill="#8585c8"/>
<circle cx="405.60" cy="223.60" r="1.45" fill="#8585c8"/>
<circle cx="409.00" cy="223.60" r="1.45" fill="#8585c8"/>
<circle cx="398.30" cy="226.20" r="1.45" fill="#8585c8"/>
<circle cx="412.50" cy="227.40" r="1.45" fill="#8585c8"/>
<circle cx="402.10" cy="228.80" r="1.45" fill="#8585c8"/>
<circle cx="405.60" cy="229.70" r="1.45" fill="#8585c8"/>
<circle cx="409.00" cy="229.70" r="1.45" fill="#8585c8"/>
<circle cx="398.30" cy="229.70" r="1.45" fill="#8585c8"/>
<circle cx="402.10" cy="232.60" r="1.45" fill="#8585c8"/>
<circle cx="406.40" cy="231.90" r="1.45" fill="#8585c8"/>
<circle cx="402.10" cy="238.90" r="1.45" fill="#8585c8"/>
<circle cx="405.60" cy="237.10" r="1.45" fill="#8585c8"/>
<circle cx="402.10" cy="241.30" r="1.45" fill="#8585c8"/>
<circle cx="409.40" cy="241.30" r="1.45" fill="#8585c8"/>
<circle cx="408.70" cy="247.50" r="1.45" fill="#8585c8"/>
<circle cx="405.60" cy="249.90" r="1.45" fill="#8585c8"/>
<circle cx="405.60" cy="253.90" r="1.45" fill="#8585c8"/>
<circle cx="430.85" cy="220.52" r="1.45" fill="#c0102c"/>
<circle cx="430.85" cy="231.76" r="1.45" fill="#c0102c"/>
<circle cx="430.85" cy="235.57" r="1.45" fill="#c0102c"/>
<circle cx="430.85" cy="239.90" r="1.45" fill="#c0102c"/>
<circle cx="429.64" cy="244.57" r="1.45" fill="#c0102c"/>
<circle cx="426.52" cy="248.03" r="1.45" fill="#c0102c"/>
<circle cx="435.17" cy="245.95" r="1.45" fill="#c0102c"/>
<circle cx="430.85" cy="248.03" r="1.45" fill="#c0102c"/>
<circle cx="423.41" cy="250.80" r="1.45" fill="#c0102c"/>
<circle cx="427.39" cy="250.80" r="1.45" fill="#c0102c"/>
<circle cx="431.37" cy="250.28" r="1.45" fill="#c0102c"/>
<circle cx="434.83" cy="250.28" r="1.45" fill="#c0102c"/>
<circle cx="438.29" cy="249.41" r="1.45" fill="#c0102c"/>
<circle cx="429.64" cy="252.87" r="1.45" fill="#c0102c"/>
<circle cx="433.44" cy="252.53" r="1.45" fill="#c0102c"/>
<circle cx="430.85" cy="256.68" r="1.45" fill="#c0102c"/>
<circle cx="427.91" cy="260.14" r="1.45" fill="#c0102c"/>
<circle cx="434.31" cy="260.31" r="1.45" fill="#c0102c"/>
<circle cx="432.06" cy="271.04" r="1.45" fill="#c0102c"/>
<circle cx="429.64" cy="271.90" r="1.45" fill="#c0102c"/>
<circle cx="456.80" cy="255.47" r="1.50" fill="#4a2a0c" stroke="#c98a2a" stroke-width="0.5"/>
<circle cx="454.20" cy="261.52" r="1.50" fill="#4a2a0c" stroke="#c98a2a" stroke-width="0.5"/>
<circle cx="459.05" cy="263.60" r="1.50" fill="#4a2a0c" stroke="#c98a2a" stroke-width="0.5"/>
<circle cx="449.88" cy="264.12" r="1.50" fill="#4a2a0c" stroke="#c98a2a" stroke-width="0.5"/>
<circle cx="454.20" cy="266.71" r="1.50" fill="#4a2a0c" stroke="#c98a2a" stroke-width="0.5"/>
<circle cx="459.05" cy="267.58" r="1.50" fill="#4a2a0c" stroke="#c98a2a" stroke-width="0.5"/>
<circle cx="463.72" cy="268.10" r="1.50" fill="#4a2a0c" stroke="#c98a2a" stroke-width="0.5"/>
<circle cx="449.88" cy="268.10" r="1.50" fill="#4a2a0c" stroke="#c98a2a" stroke-width="0.5"/>
<circle cx="456.80" cy="271.90" r="1.50" fill="#4a2a0c" stroke="#c98a2a" stroke-width="0.5"/>
<circle cx="449.88" cy="275.02" r="1.50" fill="#4a2a0c" stroke="#c98a2a" stroke-width="0.5"/>
<circle cx="453.86" cy="275.71" r="1.50" fill="#4a2a0c" stroke="#c98a2a" stroke-width="0.5"/>
<circle cx="457.32" cy="275.36" r="1.50" fill="#4a2a0c" stroke="#c98a2a" stroke-width="0.5"/>
<circle cx="461.12" cy="275.02" r="1.50" fill="#4a2a0c" stroke="#c98a2a" stroke-width="0.5"/>
<circle cx="464.58" cy="273.98" r="1.50" fill="#4a2a0c" stroke="#c98a2a" stroke-width="0.5"/>
<circle cx="449.88" cy="280.21" r="1.50" fill="#4a2a0c" stroke="#c98a2a" stroke-width="0.5"/>
<circle cx="459.05" cy="280.21" r="1.50" fill="#4a2a0c" stroke="#c98a2a" stroke-width="0.5"/>
<circle cx="463.72" cy="278.48" r="1.50" fill="#4a2a0c" stroke="#c98a2a" stroke-width="0.5"/>
<circle cx="456.80" cy="289.20" r="1.50" fill="#4a2a0c" stroke="#c98a2a" stroke-width="0.5"/>
<circle cx="454.20" cy="294.05" r="1.50" fill="#4a2a0c" stroke="#c98a2a" stroke-width="0.5"/>
<circle cx="459.05" cy="295.26" r="1.50" fill="#4a2a0c" stroke="#c98a2a" stroke-width="0.5"/>
<circle cx="456.80" cy="298.72" r="1.50" fill="#4a2a0c" stroke="#c98a2a" stroke-width="0.5"/>
<line x1="448.00" y1="274.80" x2="465.00" y2="274.80" stroke="#555" stroke-width="0.7"/>
<text x="51.80" y="396.40" font-size="6.8" text-anchor="middle" fill="#333">Brightfield</text>
<text x="99.70" y="396.40" font-size="6.8" text-anchor="middle" fill="#333">Lysotracker</text>
<text x="143.00" y="396.40" font-size="6.8" text-anchor="middle" fill="#333">CD19</text>
<text x="182.80" y="396.40" font-size="6.8" text-anchor="middle" fill="#333">Merge</text>
<text x="29.20" y="424.90" font-size="6.8" text-anchor="end" fill="#333">t = 0h</text>
<text x="29.20" y="456.60" font-size="6.8" text-anchor="end" fill="#333">t = 24h</text>
<rect x="32.40" y="401.00" width="42.90" height="70.60" fill="#8d8d8d"/>
<rect x="75.30" y="401.00" width="126.40" height="70.60" fill="#050505"/>
<defs><filter id="bl1" x="-30%" y="-30%" width="160%" height="160%"><feGaussianBlur stdDeviation="0.9"/></filter><filter id="bl2" x="-30%" y="-30%" width="160%" height="160%"><feGaussianBlur stdDeviation="0.5"/></filter><radialGradient id="gG"><stop offset="0" stop-color="#46c846"/><stop offset="0.7" stop-color="#3cbc3c"/><stop offset="1" stop-color="#1f8f1f"/></radialGradient><radialGradient id="gR2"><stop offset="0" stop-color="#ff2a2a"/><stop offset="0.75" stop-color="#f01c1c"/><stop offset="1" stop-color="#a01010"/></radialGradient><radialGradient id="gM2" cx="0.45" cy="0.55"><stop offset="0" stop-color="#e6d020"/><stop offset="0.45" stop-color="#f0b41c"/><stop offset="0.85" stop-color="#f07818"/><stop offset="1" stop-color="#b03010"/></radialGradient><radialGradient id="gB"><stop offset="0" stop-color="#d4d4d4"/><stop offset="0.85" stop-color="#e4e4e4"/><stop offset="0.93" stop-color="#efefef"/><stop offset="1" stop-color="#2a2a2a"/></radialGradient></defs>
<circle cx="56.60" cy="418.20" r="10.70" fill="url(#gB)" stroke="#1a1a1a" stroke-width="0.9"/>
<circle cx="52.80" cy="454.80" r="8.90" fill="url(#gB)" stroke="#1a1a1a" stroke-width="0.9"/>
<line x1="50.24" y1="420.16" x2="51.78" y2="419.37" stroke="#fafafa" stroke-width="1.03" stroke-linecap="round"/>
<line x1="59.54" y1="425.62" x2="57.54" y2="425.93" stroke="#3a3a3a" stroke-width="0.65" stroke-linecap="round"/>
<line x1="55.72" y1="420.73" x2="56.52" y2="418.70" stroke="#202020" stroke-width="0.90" stroke-linecap="round"/>
<line x1="51.84" y1="421.84" x2="51.69" y2="419.74" stroke="#fafafa" stroke-width="0.61" stroke-linecap="round"/>
<line x1="54.46" y1="417.81" x2="54.93" y2="419.01" stroke="#202020" stroke-width="0.99" stroke-linecap="round"/>
<line x1="53.44" y1="424.27" x2="53.87" y2="425.46" stroke="#555" stroke-width="0.85" stroke-linecap="round"/>
<line x1="53.45" y1="413.07" x2="52.96" y2="415.82" stroke="#909090" stroke-width="0.64" stroke-linecap="round"/>
<line x1="56.41" y1="425.95" x2="55.55" y2="425.88" stroke="#fafafa" stroke-width="0.98" stroke-linecap="round"/>
<line x1="49.96" y1="423.00" x2="47.91" y2="424.77" stroke="#909090" stroke-width="0.94" stroke-linecap="round"/>
<line x1="58.55" y1="426.54" x2="60.02" y2="427.05" stroke="#ffffff" stroke-width="0.80" stroke-linecap="round"/>
<line x1="62.93" y1="421.33" x2="63.17" y2="420.01" stroke="#202020" stroke-width="0.76" stroke-linecap="round"/>
<line x1="62.27" y1="418.74" x2="63.22" y2="418.24" stroke="#ffffff" stroke-width="0.65" stroke-linecap="round"/>
<line x1="63.99" y1="421.12" x2="64.83" y2="422.84" stroke="#707070" stroke-width="0.85" stroke-linecap="round"/>
<line x1="64.37" y1="417.48" x2="63.00" y2="418.24" stroke="#707070" stroke-width="0.81" stroke-linecap="round"/>
<line x1="57.67" y1="422.70" x2="60.04" y2="422.26" stroke="#555" stroke-width="1.10" stroke-linecap="round"/>
<line x1="60.42" y1="418.67" x2="62.43" y2="418.62" stroke="#fafafa" stroke-width="0.65" stroke-linecap="round"/>
<line x1="60.70" y1="417.92" x2="60.58" y2="420.27" stroke="#555" stroke-width="1.02" stroke-linecap="round"/>
<line x1="54.77" y1="419.79" x2="55.30" y2="421.79" stroke="#202020" stroke-width="0.90" stroke-linecap="round"/>
<line x1="52.45" y1="422.52" x2="54.16" y2="422.07" stroke="#fafafa" stroke-width="0.67" stroke-linecap="round"/>
<line x1="51.28" y1="422.83" x2="50.81" y2="423.99" stroke="#fafafa" stroke-width="0.72" stroke-linecap="round"/>
<line x1="59.43" y1="425.31" x2="60.54" y2="424.88" stroke="#707070" stroke-width="1.04" stroke-linecap="round"/>
<line x1="52.00" y1="414.70" x2="52.70" y2="415.23" stroke="#555" stroke-width="0.72" stroke-linecap="round"/>
<line x1="55.33" y1="413.87" x2="56.22" y2="412.09" stroke="#555" stroke-width="0.86" stroke-linecap="round"/>
<line x1="64.54" y1="414.41" x2="65.77" y2="415.67" stroke="#ffffff" stroke-width="1.03" stroke-linecap="round"/>
<line x1="53.05" y1="415.10" x2="54.10" y2="414.50" stroke="#202020" stroke-width="0.63" stroke-linecap="round"/>
<line x1="52.83" y1="420.55" x2="54.13" y2="420.94" stroke="#fafafa" stroke-width="0.89" stroke-linecap="round"/>
<line x1="60.23" y1="422.14" x2="62.36" y2="420.39" stroke="#ffffff" stroke-width="0.97" stroke-linecap="round"/>
<line x1="48.02" y1="417.01" x2="45.79" y2="415.59" stroke="#707070" stroke-width="1.06" stroke-linecap="round"/>
<line x1="53.95" y1="409.88" x2="56.00" y2="410.15" stroke="#707070" stroke-width="0.63" stroke-linecap="round"/>
<line x1="55.37" y1="421.25" x2="56.90" y2="422.00" stroke="#555" stroke-width="0.97" stroke-linecap="round"/>
<line x1="62.79" y1="413.72" x2="62.10" y2="411.43" stroke="#555" stroke-width="0.78" stroke-linecap="round"/>
<line x1="53.25" y1="410.44" x2="54.38" y2="409.26" stroke="#909090" stroke-width="0.62" stroke-linecap="round"/>
<line x1="55.53" y1="418.20" x2="54.71" y2="416.87" stroke="#202020" stroke-width="0.90" stroke-linecap="round"/>
<line x1="62.83" y1="421.64" x2="65.39" y2="421.53" stroke="#ffffff" stroke-width="0.77" stroke-linecap="round"/>
<line x1="63.39" y1="415.22" x2="61.73" y2="415.67" stroke="#fafafa" stroke-width="0.64" stroke-linecap="round"/>
<line x1="56.60" y1="416.66" x2="55.18" y2="415.62" stroke="#3a3a3a" stroke-width="1.08" stroke-linecap="round"/>
<line x1="62.56" y1="423.32" x2="61.62" y2="421.82" stroke="#202020" stroke-width="0.78" stroke-linecap="round"/>
<line x1="60.93" y1="423.65" x2="58.64" y2="423.39" stroke="#555" stroke-width="0.93" stroke-linecap="round"/>
<line x1="48.75" y1="421.20" x2="47.76" y2="423.09" stroke="#3a3a3a" stroke-width="0.92" stroke-linecap="round"/>
<line x1="59.16" y1="410.90" x2="59.54" y2="412.07" stroke="#3a3a3a" stroke-width="0.89" stroke-linecap="round"/>
<line x1="55.27" y1="421.20" x2="52.79" y2="421.26" stroke="#909090" stroke-width="0.62" stroke-linecap="round"/>
<line x1="64.71" y1="421.66" x2="65.15" y2="420.73" stroke="#707070" stroke-width="0.74" stroke-linecap="round"/>
<line x1="57.88" y1="423.78" x2="56.62" y2="422.51" stroke="#555" stroke-width="0.96" stroke-linecap="round"/>
<line x1="60.44" y1="412.31" x2="59.39" y2="414.53" stroke="#555" stroke-width="1.04" stroke-linecap="round"/>
<line x1="58.66" y1="456.36" x2="57.38" y2="455.75" stroke="#909090" stroke-width="0.88" stroke-linecap="round"/>
<line x1="49.90" y1="451.25" x2="50.76" y2="453.42" stroke="#555" stroke-width="0.72" stroke-linecap="round"/>
<line x1="53.79" y1="456.01" x2="52.62" y2="454.78" stroke="#ffffff" stroke-width="0.87" stroke-linecap="round"/>
<line x1="50.01" y1="451.43" x2="51.07" y2="452.00" stroke="#909090" stroke-width="0.84" stroke-linecap="round"/>
<line x1="53.12" y1="455.47" x2="50.93" y2="455.86" stroke="#3a3a3a" stroke-width="0.71" stroke-linecap="round"/>
<line x1="53.74" y1="449.60" x2="55.45" y2="449.00" stroke="#909090" stroke-width="0.68" stroke-linecap="round"/>
<line x1="56.30" y1="449.90" x2="56.57" y2="451.50" stroke="#ffffff" stroke-width="0.79" stroke-linecap="round"/>
<line x1="49.76" y1="455.78" x2="50.38" y2="455.25" stroke="#fafafa" stroke-width="0.88" stroke-linecap="round"/>
<line x1="57.47" y1="450.38" x2="59.09" y2="449.79" stroke="#ffffff" stroke-width="1.09" stroke-linecap="round"/>
<line x1="58.25" y1="458.70" x2="59.04" y2="456.18" stroke="#202020" stroke-width="0.71" stroke-linecap="round"/>
<line x1="58.57" y1="450.61" x2="60.42" y2="450.34" stroke="#909090" stroke-width="1.07" stroke-linecap="round"/>
<line x1="52.35" y1="460.89" x2="54.15" y2="461.06" stroke="#202020" stroke-width="0.82" stroke-linecap="round"/>
<line x1="46.80" y1="452.84" x2="45.95" y2="452.91" stroke="#909090" stroke-width="1.03" stroke-linecap="round"/>
<line x1="51.58" y1="455.38" x2="49.46" y2="454.93" stroke="#3a3a3a" stroke-width="0.84" stroke-linecap="round"/>
<line x1="59.63" y1="454.79" x2="57.49" y2="454.55" stroke="#707070" stroke-width="1.07" stroke-linecap="round"/>
<line x1="45.79" y1="455.13" x2="46.86" y2="455.77" stroke="#fafafa" stroke-width="0.88" stroke-linecap="round"/>
<line x1="55.43" y1="450.09" x2="56.37" y2="451.66" stroke="#fafafa" stroke-width="0.73" stroke-linecap="round"/>
<line x1="49.46" y1="448.61" x2="50.84" y2="447.14" stroke="#555" stroke-width="1.03" stroke-linecap="round"/>
<line x1="57.91" y1="453.77" x2="56.83" y2="453.24" stroke="#fafafa" stroke-width="0.66" stroke-linecap="round"/>
<line x1="57.22" y1="454.94" x2="56.36" y2="454.73" stroke="#707070" stroke-width="0.87" stroke-linecap="round"/>
<line x1="55.31" y1="454.63" x2="56.25" y2="455.26" stroke="#fafafa" stroke-width="0.83" stroke-linecap="round"/>
<line x1="58.46" y1="451.72" x2="57.39" y2="452.46" stroke="#707070" stroke-width="0.66" stroke-linecap="round"/>
<line x1="46.85" y1="457.43" x2="48.28" y2="456.41" stroke="#555" stroke-width="0.65" stroke-linecap="round"/>
<line x1="51.72" y1="455.40" x2="51.58" y2="457.60" stroke="#202020" stroke-width="0.62" stroke-linecap="round"/>
<line x1="53.24" y1="455.45" x2="52.76" y2="457.65" stroke="#3a3a3a" stroke-width="0.91" stroke-linecap="round"/>
<line x1="57.67" y1="458.57" x2="58.97" y2="459.84" stroke="#555" stroke-width="0.96" stroke-linecap="round"/>
<line x1="50.77" y1="448.36" x2="52.81" y2="448.66" stroke="#909090" stroke-width="0.86" stroke-linecap="round"/>
<line x1="54.55" y1="457.54" x2="53.14" y2="456.02" stroke="#fafafa" stroke-width="0.71" stroke-linecap="round"/>
<line x1="47.48" y1="453.33" x2="49.21" y2="455.32" stroke="#ffffff" stroke-width="1.01" stroke-linecap="round"/>
<line x1="56.11" y1="452.48" x2="55.06" y2="454.90" stroke="#3a3a3a" stroke-width="0.99" stroke-linecap="round"/>
<line x1="53.57" y1="456.91" x2="54.38" y2="456.22" stroke="#202020" stroke-width="0.73" stroke-linecap="round"/>
<line x1="58.19" y1="458.56" x2="56.09" y2="459.69" stroke="#3a3a3a" stroke-width="0.70" stroke-linecap="round"/>
<line x1="48.34" y1="450.17" x2="49.93" y2="451.27" stroke="#555" stroke-width="1.06" stroke-linecap="round"/>
<line x1="55.20" y1="454.32" x2="52.88" y2="454.23" stroke="#fafafa" stroke-width="1.10" stroke-linecap="round"/>
<line x1="56.01" y1="449.20" x2="55.17" y2="449.30" stroke="#909090" stroke-width="0.88" stroke-linecap="round"/>
<line x1="47.39" y1="454.30" x2="48.10" y2="455.23" stroke="#3a3a3a" stroke-width="0.69" stroke-linecap="round"/>
<line x1="54.89" y1="458.01" x2="53.98" y2="456.27" stroke="#3a3a3a" stroke-width="1.08" stroke-linecap="round"/>
<line x1="46.68" y1="456.29" x2="45.88" y2="457.82" stroke="#fafafa" stroke-width="0.78" stroke-linecap="round"/>
<line x1="53.89" y1="459.06" x2="53.30" y2="458.40" stroke="#3a3a3a" stroke-width="0.69" stroke-linecap="round"/>
<line x1="46.87" y1="456.57" x2="45.88" y2="457.23" stroke="#3a3a3a" stroke-width="0.65" stroke-linecap="round"/>
<line x1="53.88" y1="450.85" x2="56.02" y2="452.11" stroke="#909090" stroke-width="1.05" stroke-linecap="round"/>
<line x1="57.85" y1="452.79" x2="58.56" y2="454.62" stroke="#555" stroke-width="1.00" stroke-linecap="round"/>
<line x1="52.44" y1="461.66" x2="52.36" y2="459.31" stroke="#909090" stroke-width="1.07" stroke-linecap="round"/>
<line x1="55.57" y1="457.87" x2="54.08" y2="457.50" stroke="#707070" stroke-width="0.98" stroke-linecap="round"/>
<g filter="url(#bl1)">
<circle cx="99.20" cy="417.90" r="10.00" fill="url(#gG)"/>
<circle cx="95.70" cy="454.20" r="8.70" fill="url(#gG)"/>
<circle cx="142.10" cy="418.40" r="10.20" fill="#1e0202" stroke="#b01414" stroke-width="1.8"/>
<circle cx="139.30" cy="453.60" r="9.10" fill="url(#gR2)"/>
<circle cx="185.40" cy="418.40" r="10.00" fill="#44bc3c" stroke="#d86a1a" stroke-width="2"/>
<circle cx="182.10" cy="453.60" r="9.10" fill="url(#gM2)"/>
</g>
<g filter="url(#bl2)" opacity="0.6">
<circle cx="101.00" cy="415.00" r="3.00" fill="#58d058"/>
<circle cx="96.00" cy="421.00" r="2.50" fill="#2ea82e"/>
<circle cx="97.00" cy="452.00" r="2.50" fill="#56cc56"/>
<circle cx="184.00" cy="414.00" r="3.00" fill="#5ccc4c"/>
<circle cx="188.00" cy="421.00" r="2.50" fill="#38a830"/>
<circle cx="137.00" cy="451.00" r="3.00" fill="#ff4040"/>
<circle cx="180.00" cy="451.00" r="2.50" fill="#e8e030"/>
</g>
<text x="117.30" y="480.60" font-size="6.55" text-anchor="middle" fill="#333">KARPAS422</text>
<text x="293.00" y="373.20" font-size="8.3" text-anchor="middle" fill="#333">Human CD19 K562-GRE</text>
<line x1="239.40" y1="388.40" x2="239.40" y2="481.00" stroke="#222" stroke-width="1"/>
<line x1="238.90" y1="480.50" x2="344.60" y2="480.50" stroke="#222" stroke-width="1"/>
<line x1="236.60" y1="480.50" x2="239.40" y2="480.50" stroke="#222" stroke-width="0.9"/>
<text x="232.80" y="483.00" font-size="7" text-anchor="end" fill="#222">0</text>
<line x1="236.60" y1="458.10" x2="239.40" y2="458.10" stroke="#222" stroke-width="0.9"/>
<text x="232.80" y="460.60" font-size="7" text-anchor="end" fill="#222">10</text>
<line x1="236.60" y1="435.70" x2="239.40" y2="435.70" stroke="#222" stroke-width="0.9"/>
<text x="232.80" y="438.20" font-size="7" text-anchor="end" fill="#222">20</text>
<line x1="236.60" y1="413.30" x2="239.40" y2="413.30" stroke="#222" stroke-width="0.9"/>
<text x="232.80" y="415.80" font-size="7" text-anchor="end" fill="#222">30</text>
<line x1="236.60" y1="390.90" x2="239.40" y2="390.90" stroke="#222" stroke-width="0.9"/>
<text x="232.80" y="393.40" font-size="7" text-anchor="end" fill="#222">40</text>
<line x1="239.40" y1="480.50" x2="239.40" y2="483.30" stroke="#222" stroke-width="0.9"/>
<text x="0" y="0" font-size="6.6" text-anchor="end" fill="#333" transform="translate(242.30 488.6) rotate(-45)">0.001</text>
<line x1="256.63" y1="480.50" x2="256.63" y2="483.30" stroke="#222" stroke-width="0.9"/>
<text x="0" y="0" font-size="6.6" text-anchor="end" fill="#333" transform="translate(259.53 488.6) rotate(-45)">0.01</text>
<line x1="273.86" y1="480.50" x2="273.86" y2="483.30" stroke="#222" stroke-width="0.9"/>
<text x="0" y="0" font-size="6.6" text-anchor="end" fill="#333" transform="translate(276.76 488.6) rotate(-45)">0.1</text>
<line x1="291.09" y1="480.50" x2="291.09" y2="483.30" stroke="#222" stroke-width="0.9"/>
<text x="0" y="0" font-size="6.6" text-anchor="end" fill="#333" transform="translate(293.99 488.6) rotate(-45)">1</text>
<line x1="308.32" y1="480.50" x2="308.32" y2="483.30" stroke="#222" stroke-width="0.9"/>
<text x="0" y="0" font-size="6.6" text-anchor="end" fill="#333" transform="translate(311.22 488.6) rotate(-45)">10</text>
<line x1="325.55" y1="480.50" x2="325.55" y2="483.30" stroke="#222" stroke-width="0.9"/>
<text x="0" y="0" font-size="6.6" text-anchor="end" fill="#333" transform="translate(328.45 488.6) rotate(-45)">100</text>
<line x1="342.78" y1="480.50" x2="342.78" y2="483.30" stroke="#222" stroke-width="0.9"/>
<text x="0" y="0" font-size="6.6" text-anchor="end" fill="#333" transform="translate(345.68 488.6) rotate(-45)">1000</text>
<text x="293.00" y="512.80" font-size="7.3" text-anchor="middle" fill="#333">[ABBV-319] (nM)</text>
<text x="219.80" y="433.80" font-size="6.9" text-anchor="middle" fill="#111" transform="rotate(-90 219.80 433.80)">Fold GRE reporter activation</text>
<path d="M251.40,475.50 C252.17,473.83 254.40,468.55 256.00,465.50 C257.60,462.45 259.17,459.82 261.00,457.20 C262.83,454.58 264.98,452.05 267.00,449.80 C269.02,447.55 270.48,446.23 273.10,443.70 C275.72,441.17 279.38,437.35 282.70,434.60 C286.02,431.85 289.40,429.45 293.00,427.20 C296.60,424.95 300.82,422.73 304.30,421.10 C307.78,419.47 310.68,418.50 313.90,417.40 C317.12,416.30 320.18,415.33 323.60,414.50 C327.02,413.67 332.60,412.75 334.40,412.40" stroke="#3aa43a" fill="none" stroke-width="1.1"/>
<circle cx="251.40" cy="473.80" r="1.70" fill="#3a9a3a"/>
<circle cx="262.30" cy="452.80" r="1.70" fill="#3a9a3a"/>
<circle cx="272.40" cy="443.70" r="1.70" fill="#3a9a3a"/>
<line x1="282.70" y1="414.90" x2="282.70" y2="445.40" stroke="#7cc07c" stroke-width="0.7"/>
<line x1="281.10" y1="414.90" x2="284.30" y2="414.90" stroke="#7cc07c" stroke-width="0.7"/>
<line x1="281.10" y1="445.40" x2="284.30" y2="445.40" stroke="#7cc07c" stroke-width="0.7"/>
<circle cx="282.70" cy="430.00" r="1.70" fill="#3a9a3a"/>
<line x1="293.00" y1="418.80" x2="293.00" y2="429.40" stroke="#7cc07c" stroke-width="0.7"/>
<line x1="291.40" y1="418.80" x2="294.60" y2="418.80" stroke="#7cc07c" stroke-width="0.7"/>
<line x1="291.40" y1="429.40" x2="294.60" y2="429.40" stroke="#7cc07c" stroke-width="0.7"/>
<circle cx="293.00" cy="424.00" r="1.70" fill="#3a9a3a"/>
<line x1="303.40" y1="423.30" x2="303.40" y2="434.80" stroke="#7cc07c" stroke-width="0.7"/>
<line x1="301.80" y1="423.30" x2="305.00" y2="423.30" stroke="#7cc07c" stroke-width="0.7"/>
<line x1="301.80" y1="434.80" x2="305.00" y2="434.80" stroke="#7cc07c" stroke-width="0.7"/>
<circle cx="303.40" cy="428.80" r="1.70" fill="#3a9a3a"/>
<line x1="313.70" y1="403.30" x2="313.70" y2="416.00" stroke="#7cc07c" stroke-width="0.7"/>
<line x1="312.10" y1="403.30" x2="315.30" y2="403.30" stroke="#7cc07c" stroke-width="0.7"/>
<line x1="312.10" y1="416.00" x2="315.30" y2="416.00" stroke="#7cc07c" stroke-width="0.7"/>
<circle cx="313.70" cy="410.00" r="1.70" fill="#3a9a3a"/>
<circle cx="324.00" cy="414.40" r="1.70" fill="#3a9a3a"/>
<line x1="334.40" y1="407.60" x2="334.40" y2="417.30" stroke="#7cc07c" stroke-width="0.7"/>
<line x1="332.80" y1="407.60" x2="336.00" y2="407.60" stroke="#7cc07c" stroke-width="0.7"/>
<line x1="332.80" y1="417.30" x2="336.00" y2="417.30" stroke="#7cc07c" stroke-width="0.7"/>
<circle cx="334.40" cy="412.50" r="1.70" fill="#3a9a3a"/>
<text x="443.40" y="373.60" font-size="8.3" text-anchor="middle" fill="#333">SU-DHL-6</text>
<line x1="388.30" y1="389.00" x2="388.30" y2="481.10" stroke="#222" stroke-width="1"/>
<line x1="387.80" y1="480.60" x2="496.20" y2="480.60" stroke="#222" stroke-width="1"/>
<line x1="385.40" y1="480.60" x2="388.30" y2="480.60" stroke="#222" stroke-width="0.9"/>
<text x="381.90" y="483.10" font-size="7" text-anchor="end" fill="#333">0</text>
<line x1="385.40" y1="462.71" x2="388.30" y2="462.71" stroke="#222" stroke-width="0.9"/>
<text x="381.90" y="465.21" font-size="7" text-anchor="end" fill="#333">25</text>
<line x1="385.40" y1="444.82" x2="388.30" y2="444.82" stroke="#222" stroke-width="0.9"/>
<text x="381.90" y="447.32" font-size="7" text-anchor="end" fill="#333">50</text>
<line x1="385.40" y1="426.93" x2="388.30" y2="426.93" stroke="#222" stroke-width="0.9"/>
<text x="381.90" y="429.43" font-size="7" text-anchor="end" fill="#333">75</text>
<line x1="385.40" y1="409.04" x2="388.30" y2="409.04" stroke="#222" stroke-width="0.9"/>
<text x="381.90" y="411.54" font-size="7" text-anchor="end" fill="#333">100</text>
<line x1="385.40" y1="391.15" x2="388.30" y2="391.15" stroke="#222" stroke-width="0.9"/>
<text x="381.90" y="393.65" font-size="7" text-anchor="end" fill="#333">125</text>
<line x1="388.50" y1="480.60" x2="388.50" y2="483.40" stroke="#222" stroke-width="0.9"/>
<text x="0" y="0" font-size="6.6" text-anchor="end" fill="#333" transform="translate(391.40 488.4) rotate(-45)">0.001</text>
<line x1="406.30" y1="480.60" x2="406.30" y2="483.40" stroke="#222" stroke-width="0.9"/>
<text x="0" y="0" font-size="6.6" text-anchor="end" fill="#333" transform="translate(409.20 488.4) rotate(-45)">0.01</text>
<line x1="424.10" y1="480.60" x2="424.10" y2="483.40" stroke="#222" stroke-width="0.9"/>
<text x="0" y="0" font-size="6.6" text-anchor="end" fill="#333" transform="translate(427.00 488.4) rotate(-45)">0.1</text>
<line x1="441.90" y1="480.60" x2="441.90" y2="483.40" stroke="#222" stroke-width="0.9"/>
<text x="0" y="0" font-size="6.6" text-anchor="end" fill="#333" transform="translate(444.80 488.4) rotate(-45)">1</text>
<line x1="459.70" y1="480.60" x2="459.70" y2="483.40" stroke="#222" stroke-width="0.9"/>
<text x="0" y="0" font-size="6.6" text-anchor="end" fill="#333" transform="translate(462.60 488.4) rotate(-45)">10</text>
<line x1="477.50" y1="480.60" x2="477.50" y2="483.40" stroke="#222" stroke-width="0.9"/>
<text x="0" y="0" font-size="6.6" text-anchor="end" fill="#333" transform="translate(480.40 488.4) rotate(-45)">100</text>
<line x1="495.30" y1="480.60" x2="495.30" y2="483.40" stroke="#222" stroke-width="0.9"/>
<text x="0" y="0" font-size="6.6" text-anchor="end" fill="#333" transform="translate(498.20 488.4) rotate(-45)">1000</text>
<text x="443.20" y="512.90" font-size="7.3" text-anchor="middle" fill="#333">[Concentration] (nM)</text>
<text x="364.30" y="434.50" font-size="7.0" text-anchor="middle" fill="#333" transform="rotate(-90 364.30 434.50)">% Viability</text>
<path d="M395.4,412.6 L470,412.4 C476.5,412.4 479.5,413 481.5,418 C483.5,425 484.5,433 486.5,436 C488.5,437.3 491,437.3 494.6,437.3" stroke="#e8b420" fill="none" stroke-width="1.2"/>
<path d="M395.4,408.6 L418,408.8 C424,409.2 428,411 433,416 C438,423 442,432 447,440 C452,448 456,452.5 462,455 C468,457 475,457.8 482,458 L495.3,458" stroke="#4a2810" fill="none" stroke-width="1.1"/>
<path d="M388.5,416 C396,416.5 402,418 408,420.5 C414,424 420,428 426,434 C432,441 438,448 446,455 C452,460 458,463.5 466,466.5 C474,468.5 484,469.3 495.3,469.5" stroke="#3aaa3a" fill="none" stroke-width="1.1"/>
<line x1="395.40" y1="403.80" x2="395.40" y2="420.50" stroke="#e8b420" stroke-width="0.7"/>
<line x1="393.80" y1="403.80" x2="397.00" y2="403.80" stroke="#e8b420" stroke-width="0.7"/>
<line x1="393.80" y1="420.50" x2="397.00" y2="420.50" stroke="#e8b420" stroke-width="0.7"/>
<rect x="393.60" y="410.90" width="3.60" height="3.60" fill="#e8b420"/>
<line x1="407.60" y1="404.00" x2="407.60" y2="420.00" stroke="#e8b420" stroke-width="0.7"/>
<line x1="406.00" y1="404.00" x2="409.20" y2="404.00" stroke="#e8b420" stroke-width="0.7"/>
<line x1="406.00" y1="420.00" x2="409.20" y2="420.00" stroke="#e8b420" stroke-width="0.7"/>
<rect x="405.80" y="411.60" width="3.60" height="3.60" fill="#e8b420"/>
<line x1="433.00" y1="408.60" x2="433.00" y2="420.40" stroke="#e8b420" stroke-width="0.7"/>
<line x1="431.40" y1="408.60" x2="434.60" y2="408.60" stroke="#e8b420" stroke-width="0.7"/>
<line x1="431.40" y1="420.40" x2="434.60" y2="420.40" stroke="#e8b420" stroke-width="0.7"/>
<rect x="431.20" y="412.50" width="3.60" height="3.60" fill="#e8b420"/>
<line x1="445.50" y1="409.50" x2="445.50" y2="421.00" stroke="#e8b420" stroke-width="0.7"/>
<line x1="443.90" y1="409.50" x2="447.10" y2="409.50" stroke="#e8b420" stroke-width="0.7"/>
<line x1="443.90" y1="421.00" x2="447.10" y2="421.00" stroke="#e8b420" stroke-width="0.7"/>
<rect x="443.70" y="413.20" width="3.60" height="3.60" fill="#e8b420"/>
<line x1="457.70" y1="410.80" x2="457.70" y2="414.60" stroke="#e8b420" stroke-width="0.7"/>
<line x1="456.10" y1="410.80" x2="459.30" y2="410.80" stroke="#e8b420" stroke-width="0.7"/>
<line x1="456.10" y1="414.60" x2="459.30" y2="414.60" stroke="#e8b420" stroke-width="0.7"/>
<rect x="455.90" y="410.90" width="3.60" height="3.60" fill="#e8b420"/>
<line x1="470.40" y1="409.20" x2="470.40" y2="413.40" stroke="#e8b420" stroke-width="0.7"/>
<line x1="468.80" y1="409.20" x2="472.00" y2="409.20" stroke="#e8b420" stroke-width="0.7"/>
<line x1="468.80" y1="413.40" x2="472.00" y2="413.40" stroke="#e8b420" stroke-width="0.7"/>
<rect x="468.60" y="409.30" width="3.60" height="3.60" fill="#e8b420"/>
<line x1="481.90" y1="418.00" x2="481.90" y2="424.40" stroke="#e8b420" stroke-width="0.7"/>
<line x1="480.30" y1="418.00" x2="483.50" y2="418.00" stroke="#e8b420" stroke-width="0.7"/>
<line x1="480.30" y1="424.40" x2="483.50" y2="424.40" stroke="#e8b420" stroke-width="0.7"/>
<rect x="480.10" y="419.40" width="3.60" height="3.60" fill="#e8b420"/>
<line x1="494.60" y1="434.30" x2="494.60" y2="439.30" stroke="#e8b420" stroke-width="0.7"/>
<line x1="493.00" y1="434.30" x2="496.20" y2="434.30" stroke="#e8b420" stroke-width="0.7"/>
<line x1="493.00" y1="439.30" x2="496.20" y2="439.30" stroke="#e8b420" stroke-width="0.7"/>
<rect x="492.80" y="435.10" width="3.60" height="3.60" fill="#e8b420"/>
<line x1="395.40" y1="405.00" x2="395.40" y2="412.00" stroke="#7a5a3a" stroke-width="0.7"/>
<line x1="393.80" y1="405.00" x2="397.00" y2="405.00" stroke="#7a5a3a" stroke-width="0.7"/>
<line x1="393.80" y1="412.00" x2="397.00" y2="412.00" stroke="#7a5a3a" stroke-width="0.7"/>
<polygon points="395.40,406.90 397.60,410.80 393.20,410.80" fill="#4a2810"/>
<line x1="407.60" y1="405.50" x2="407.60" y2="412.00" stroke="#7a5a3a" stroke-width="0.7"/>
<line x1="406.00" y1="405.50" x2="409.20" y2="405.50" stroke="#7a5a3a" stroke-width="0.7"/>
<line x1="406.00" y1="412.00" x2="409.20" y2="412.00" stroke="#7a5a3a" stroke-width="0.7"/>
<polygon points="407.60,406.90 409.80,410.80 405.40,410.80" fill="#4a2810"/>
<polygon points="420.30,405.80 422.50,409.70 418.10,409.70" fill="#4a2810"/>
<polygon points="433.00,413.90 435.20,417.80 430.80,417.80" fill="#4a2810"/>
<polygon points="445.50,433.50 447.70,437.40 443.30,437.40" fill="#4a2810"/>
<line x1="457.70" y1="447.50" x2="457.70" y2="454.00" stroke="#7a5a3a" stroke-width="0.7"/>
<line x1="456.10" y1="447.50" x2="459.30" y2="447.50" stroke="#7a5a3a" stroke-width="0.7"/>
<line x1="456.10" y1="454.00" x2="459.30" y2="454.00" stroke="#7a5a3a" stroke-width="0.7"/>
<polygon points="457.70,448.50 459.90,452.40 455.50,452.40" fill="#4a2810"/>
<line x1="470.40" y1="451.50" x2="470.40" y2="459.00" stroke="#7a5a3a" stroke-width="0.7"/>
<line x1="468.80" y1="451.50" x2="472.00" y2="451.50" stroke="#7a5a3a" stroke-width="0.7"/>
<line x1="468.80" y1="459.00" x2="472.00" y2="459.00" stroke="#7a5a3a" stroke-width="0.7"/>
<polygon points="470.40,453.10 472.60,457.00 468.20,457.00" fill="#4a2810"/>
<polygon points="482.40,451.90 484.60,455.80 480.20,455.80" fill="#4a2810"/>
<polygon points="495.30,461.90 497.50,465.80 493.10,465.80" fill="#4a2810"/>
<line x1="395.40" y1="409.00" x2="395.40" y2="422.00" stroke="#6cc06c" stroke-width="0.7"/>
<line x1="393.80" y1="409.00" x2="397.00" y2="409.00" stroke="#6cc06c" stroke-width="0.7"/>
<line x1="393.80" y1="422.00" x2="397.00" y2="422.00" stroke="#6cc06c" stroke-width="0.7"/>
<circle cx="395.40" cy="416.20" r="1.30" fill="#3aaa3a"/>
<circle cx="407.60" cy="418.90" r="1.30" fill="#3aaa3a"/>
<line x1="420.30" y1="418.60" x2="420.30" y2="426.60" stroke="#6cc06c" stroke-width="0.7"/>
<line x1="418.70" y1="418.60" x2="421.90" y2="418.60" stroke="#6cc06c" stroke-width="0.7"/>
<line x1="418.70" y1="426.60" x2="421.90" y2="426.60" stroke="#6cc06c" stroke-width="0.7"/>
<circle cx="420.30" cy="422.60" r="1.30" fill="#3aaa3a"/>
<circle cx="433.00" cy="446.60" r="1.30" fill="#3aaa3a"/>
<circle cx="445.50" cy="454.90" r="1.30" fill="#3aaa3a"/>
<circle cx="457.70" cy="461.20" r="1.30" fill="#3aaa3a"/>
<line x1="470.40" y1="461.60" x2="470.40" y2="468.20" stroke="#6cc06c" stroke-width="0.7"/>
<line x1="468.80" y1="461.60" x2="472.00" y2="461.60" stroke="#6cc06c" stroke-width="0.7"/>
<line x1="468.80" y1="468.20" x2="472.00" y2="468.20" stroke="#6cc06c" stroke-width="0.7"/>
<circle cx="470.40" cy="465.10" r="1.30" fill="#3aaa3a"/>
<circle cx="482.40" cy="473.20" r="1.30" fill="#3aaa3a"/>
<circle cx="495.30" cy="470.40" r="1.30" fill="#3aaa3a"/>
<line x1="460.70" y1="382.00" x2="470.40" y2="382.00" stroke="#e8b420" stroke-width="1.2"/>
<rect x="463.70" y="380.20" width="3.60" height="3.60" fill="#e8b420"/>
<line x1="460.70" y1="392.60" x2="470.40" y2="392.60" stroke="#4a2810" stroke-width="1.1"/>
<polygon points="465.50,390.30 467.70,394.20 463.30,394.20" fill="#4a2810"/>
<line x1="460.70" y1="402.30" x2="470.40" y2="402.30" stroke="#3aaa3a" stroke-width="1.1"/>
<circle cx="465.50" cy="402.30" r="1.30" fill="#3aaa3a"/>
<text x="472.80" y="384.60" font-size="7" text-anchor="start" fill="#333">Isotype-GRM</text>
<text x="472.80" y="395.20" font-size="7" text-anchor="start" fill="#333">GRM</text>
<text x="472.80" y="404.90" font-size="7" text-anchor="start" fill="#333">ABBV-319</text>
<line x1="38.20" y1="542.90" x2="38.20" y2="680.70" stroke="#222" stroke-width="1"/>
<line x1="37.70" y1="680.20" x2="480.30" y2="680.20" stroke="#222" stroke-width="1"/>
<line x1="35.40" y1="680.20" x2="38.20" y2="680.20" stroke="#222" stroke-width="0.9"/>
<text x="32.30" y="682.60" font-size="6.8" text-anchor="end" fill="#333">0.0</text>
<line x1="35.40" y1="653.24" x2="38.20" y2="653.24" stroke="#222" stroke-width="0.9"/>
<text x="32.30" y="655.64" font-size="6.8" text-anchor="end" fill="#333">0.2</text>
<line x1="35.40" y1="626.28" x2="38.20" y2="626.28" stroke="#222" stroke-width="0.9"/>
<text x="32.30" y="628.68" font-size="6.8" text-anchor="end" fill="#333">0.4</text>
<line x1="35.40" y1="599.32" x2="38.20" y2="599.32" stroke="#222" stroke-width="0.9"/>
<text x="32.30" y="601.72" font-size="6.8" text-anchor="end" fill="#333">0.6</text>
<line x1="35.40" y1="572.36" x2="38.20" y2="572.36" stroke="#222" stroke-width="0.9"/>
<text x="32.30" y="574.76" font-size="6.8" text-anchor="end" fill="#333">0.8</text>
<line x1="35.40" y1="545.40" x2="38.20" y2="545.40" stroke="#222" stroke-width="0.9"/>
<text x="32.30" y="547.80" font-size="6.8" text-anchor="end" fill="#333">1.0</text>
<rect x="43.60" y="545.50" width="8.70" height="134.70" fill="#164b8a"/>
<line x1="47.95" y1="680.20" x2="47.95" y2="682.80" stroke="#222" stroke-width="0.9"/>
<text x="0" y="0" font-size="6.6" text-anchor="end" fill="#333" transform="translate(51.05 689.7) rotate(-45)">Raji</text>
<rect x="57.20" y="545.50" width="8.70" height="134.70" fill="#164b8a"/>
<line x1="61.55" y1="680.20" x2="61.55" y2="682.80" stroke="#222" stroke-width="0.9"/>
<text x="0" y="0" font-size="6.6" text-anchor="end" fill="#333" transform="translate(64.65 689.7) rotate(-45)">HT</text>
<rect x="70.80" y="545.50" width="8.70" height="134.70" fill="#164b8a"/>
<line x1="75.15" y1="680.20" x2="75.15" y2="682.80" stroke="#222" stroke-width="0.9"/>
<text x="0" y="0" font-size="6.6" text-anchor="end" fill="#333" transform="translate(78.25 689.7) rotate(-45)">Ri-1#</text>
<rect x="84.40" y="545.50" width="8.70" height="134.70" fill="#164b8a"/>
<line x1="88.75" y1="680.20" x2="88.75" y2="682.80" stroke="#222" stroke-width="0.9"/>
<text x="0" y="0" font-size="6.6" text-anchor="end" fill="#333" transform="translate(91.85 689.7) rotate(-45)">Pfeiffer</text>
<rect x="98.00" y="545.50" width="8.70" height="134.70" fill="#164b8a"/>
<line x1="102.35" y1="680.20" x2="102.35" y2="682.80" stroke="#222" stroke-width="0.9"/>
<text x="0" y="0" font-size="6.6" text-anchor="end" fill="#333" transform="translate(105.45 689.7) rotate(-45)">OCI-LY3</text>
<rect x="111.60" y="545.50" width="8.70" height="134.70" fill="#164b8a"/>
<line x1="115.95" y1="680.20" x2="115.95" y2="682.80" stroke="#222" stroke-width="0.9"/>
<text x="0" y="0" font-size="6.6" text-anchor="end" fill="#333" transform="translate(119.05 689.7) rotate(-45)">U-2932</text>
<rect x="125.20" y="545.50" width="8.70" height="134.70" fill="#164b8a"/>
<line x1="129.55" y1="680.20" x2="129.55" y2="682.80" stroke="#222" stroke-width="0.9"/>
<text x="0" y="0" font-size="6.6" text-anchor="end" fill="#333" transform="translate(132.65 689.7) rotate(-45)">Sc-1*</text>
<rect x="138.80" y="545.50" width="8.70" height="134.70" fill="#164b8a"/>
<line x1="143.15" y1="680.20" x2="143.15" y2="682.80" stroke="#222" stroke-width="0.9"/>
<text x="0" y="0" font-size="6.6" text-anchor="end" fill="#333" transform="translate(146.25 689.7) rotate(-45)">WSU-DLCL2*</text>
<rect x="152.40" y="545.50" width="8.70" height="134.70" fill="#164b8a"/>
<line x1="156.75" y1="680.20" x2="156.75" y2="682.80" stroke="#222" stroke-width="0.9"/>
<text x="0" y="0" font-size="6.6" text-anchor="end" fill="#333" transform="translate(159.85 689.7) rotate(-45)">OCI-LY8*</text>
<rect x="166.00" y="545.50" width="8.70" height="134.70" fill="#164b8a"/>
<line x1="170.35" y1="680.20" x2="170.35" y2="682.80" stroke="#222" stroke-width="0.9"/>
<text x="0" y="0" font-size="6.6" text-anchor="end" fill="#333" transform="translate(173.45 689.7) rotate(-45)">SU-DHL-2</text>
<rect x="179.60" y="545.50" width="8.70" height="134.70" fill="#164b8a"/>
<line x1="183.95" y1="680.20" x2="183.95" y2="682.80" stroke="#222" stroke-width="0.9"/>
<text x="0" y="0" font-size="6.6" text-anchor="end" fill="#333" transform="translate(187.05 689.7) rotate(-45)">SU-DHL-8</text>
<rect x="193.20" y="545.50" width="8.70" height="134.70" fill="#164b8a"/>
<line x1="197.55" y1="680.20" x2="197.55" y2="682.80" stroke="#222" stroke-width="0.9"/>
<text x="0" y="0" font-size="6.6" text-anchor="end" fill="#333" transform="translate(200.65 689.7) rotate(-45)">SU-DHL-4*</text>
<rect x="206.80" y="545.50" width="8.70" height="134.70" fill="#164b8a"/>
<line x1="211.15" y1="680.20" x2="211.15" y2="682.80" stroke="#222" stroke-width="0.9"/>
<text x="0" y="0" font-size="6.6" text-anchor="end" fill="#333" transform="translate(214.25 689.7) rotate(-45)">Z-138</text>
<rect x="220.40" y="545.50" width="8.70" height="134.70" fill="#164b8a"/>
<line x1="224.75" y1="680.20" x2="224.75" y2="682.80" stroke="#222" stroke-width="0.9"/>
<text x="0" y="0" font-size="6.6" text-anchor="end" fill="#333" transform="translate(227.85 689.7) rotate(-45)">Granta-519</text>
<rect x="234.00" y="545.50" width="8.70" height="134.70" fill="#164b8a"/>
<line x1="238.35" y1="680.20" x2="238.35" y2="682.80" stroke="#222" stroke-width="0.9"/>
<text x="0" y="0" font-size="6.6" text-anchor="end" fill="#333" transform="translate(241.45 689.7) rotate(-45)">SU-DHL-10#</text>
<rect x="247.60" y="545.50" width="8.70" height="134.70" fill="#164b8a"/>
<line x1="251.95" y1="680.20" x2="251.95" y2="682.80" stroke="#222" stroke-width="0.9"/>
<text x="0" y="0" font-size="6.6" text-anchor="end" fill="#333" transform="translate(255.05 689.7) rotate(-45)">Mino</text>
<rect x="261.20" y="570.00" width="8.70" height="110.20" fill="#164b8a"/>
<line x1="265.55" y1="680.20" x2="265.55" y2="682.80" stroke="#222" stroke-width="0.9"/>
<text x="0" y="0" font-size="6.6" text-anchor="end" fill="#333" transform="translate(268.65 689.7) rotate(-45)">RS4;11</text>
<rect x="274.80" y="576.25" width="8.70" height="103.95" fill="#164b8a"/>
<line x1="279.15" y1="680.20" x2="279.15" y2="682.80" stroke="#222" stroke-width="0.9"/>
<text x="0" y="0" font-size="6.6" text-anchor="end" fill="#333" transform="translate(282.25 689.7) rotate(-45)">Jeko-1</text>
<rect x="288.40" y="591.75" width="8.70" height="88.45" fill="#164b8a"/>
<line x1="292.75" y1="680.20" x2="292.75" y2="682.80" stroke="#222" stroke-width="0.9"/>
<text x="0" y="0" font-size="6.6" text-anchor="end" fill="#333" transform="translate(295.85 689.7) rotate(-45)">OCI-LY18#</text>
<rect x="302.00" y="613.00" width="8.70" height="67.20" fill="#164b8a"/>
<line x1="306.35" y1="680.20" x2="306.35" y2="682.80" stroke="#222" stroke-width="0.9"/>
<text x="0" y="0" font-size="6.6" text-anchor="end" fill="#333" transform="translate(309.45 689.7) rotate(-45)">OCI-LY2</text>
<rect x="315.60" y="633.25" width="8.70" height="46.95" fill="#164b8a"/>
<line x1="319.95" y1="680.20" x2="319.95" y2="682.80" stroke="#222" stroke-width="0.9"/>
<text x="0" y="0" font-size="6.6" text-anchor="end" fill="#333" transform="translate(323.05 689.7) rotate(-45)">REC-1</text>
<rect x="329.20" y="634.75" width="8.70" height="45.45" fill="#164b8a"/>
<line x1="333.55" y1="680.20" x2="333.55" y2="682.80" stroke="#222" stroke-width="0.9"/>
<text x="0" y="0" font-size="6.6" text-anchor="end" fill="#333" transform="translate(336.65 689.7) rotate(-45)">HBL-1</text>
<rect x="342.80" y="637.25" width="8.70" height="42.95" fill="#164b8a"/>
<line x1="347.15" y1="680.20" x2="347.15" y2="682.80" stroke="#222" stroke-width="0.9"/>
<text x="0" y="0" font-size="6.6" text-anchor="end" fill="#333" transform="translate(350.25 689.7) rotate(-45)">SUP-B15</text>
<rect x="356.40" y="642.75" width="8.70" height="37.45" fill="#164b8a"/>
<line x1="360.75" y1="680.20" x2="360.75" y2="682.80" stroke="#222" stroke-width="0.9"/>
<text x="0" y="0" font-size="6.6" text-anchor="end" fill="#333" transform="translate(363.85 689.7) rotate(-45)">OCI-LY1</text>
<rect x="370.00" y="657.00" width="8.70" height="23.20" fill="#164b8a"/>
<line x1="374.35" y1="680.20" x2="374.35" y2="682.80" stroke="#222" stroke-width="0.9"/>
<text x="0" y="0" font-size="6.6" text-anchor="end" fill="#333" transform="translate(377.45 689.7) rotate(-45)">DoHH-2#</text>
<rect x="383.60" y="673.00" width="8.70" height="7.20" fill="#164b8a"/>
<line x1="387.95" y1="680.20" x2="387.95" y2="682.80" stroke="#222" stroke-width="0.9"/>
<text x="0" y="0" font-size="6.6" text-anchor="end" fill="#333" transform="translate(391.05 689.7) rotate(-45)">OCI-LY19#</text>
<rect x="397.20" y="674.60" width="8.70" height="5.60" fill="#164b8a"/>
<line x1="401.55" y1="680.20" x2="401.55" y2="682.80" stroke="#222" stroke-width="0.9"/>
<text x="0" y="0" font-size="6.6" text-anchor="end" fill="#333" transform="translate(404.65 689.7) rotate(-45)">TMD-8</text>
<rect x="410.80" y="676.20" width="8.70" height="4.00" fill="#164b8a"/>
<line x1="415.15" y1="680.20" x2="415.15" y2="682.80" stroke="#222" stroke-width="0.9"/>
<text x="0" y="0" font-size="6.6" text-anchor="end" fill="#333" transform="translate(418.25 689.7) rotate(-45)">DB#</text>
<rect x="424.40" y="676.70" width="8.70" height="3.50" fill="#164b8a"/>
<line x1="428.75" y1="680.20" x2="428.75" y2="682.80" stroke="#222" stroke-width="0.9"/>
<text x="0" y="0" font-size="6.6" text-anchor="end" fill="#333" transform="translate(431.85 689.7) rotate(-45)">NU-DHL-1#</text>
<line x1="442.35" y1="680.20" x2="442.35" y2="682.80" stroke="#222" stroke-width="0.9"/>
<text x="0" y="0" font-size="6.6" text-anchor="end" fill="#333" transform="translate(445.45 689.7) rotate(-45)">Farage</text>
<line x1="455.95" y1="680.20" x2="455.95" y2="682.80" stroke="#222" stroke-width="0.9"/>
<text x="0" y="0" font-size="6.6" text-anchor="end" fill="#333" transform="translate(459.05 689.7) rotate(-45)">KARPAS422</text>
<line x1="469.55" y1="680.20" x2="469.55" y2="682.80" stroke="#222" stroke-width="0.9"/>
<text x="0" y="0" font-size="6.6" text-anchor="end" fill="#333" transform="translate(472.65 689.7) rotate(-45)">SU-DHL-6#</text>
<text x="0" y="0" font-size="7.2" text-anchor="middle" fill="#333" transform="translate(15 611) rotate(-90)">EC<tspan font-size="5.6" dy="1.5">50</tspan><tspan dy="-1.5"> (µM)</tspan></text>
<text x="442.80" y="562.80" font-size="6.6" text-anchor="start" fill="#222"># DHL</text>
<text x="442.80" y="570.80" font-size="6.6" text-anchor="start" fill="#222">* THL</text>
<rect x="0.00" y="0.00" width="520.00" height="1.00" fill="#555"/>
<rect x="0.00" y="726.00" width="520.00" height="1.00" fill="#555"/>
<rect x="0.00" y="0.00" width="1.00" height="727.00" fill="#555"/>
<rect x="519.00" y="0.00" width="1.00" height="727.00" fill="#555"/>
</svg>
</body></html>
